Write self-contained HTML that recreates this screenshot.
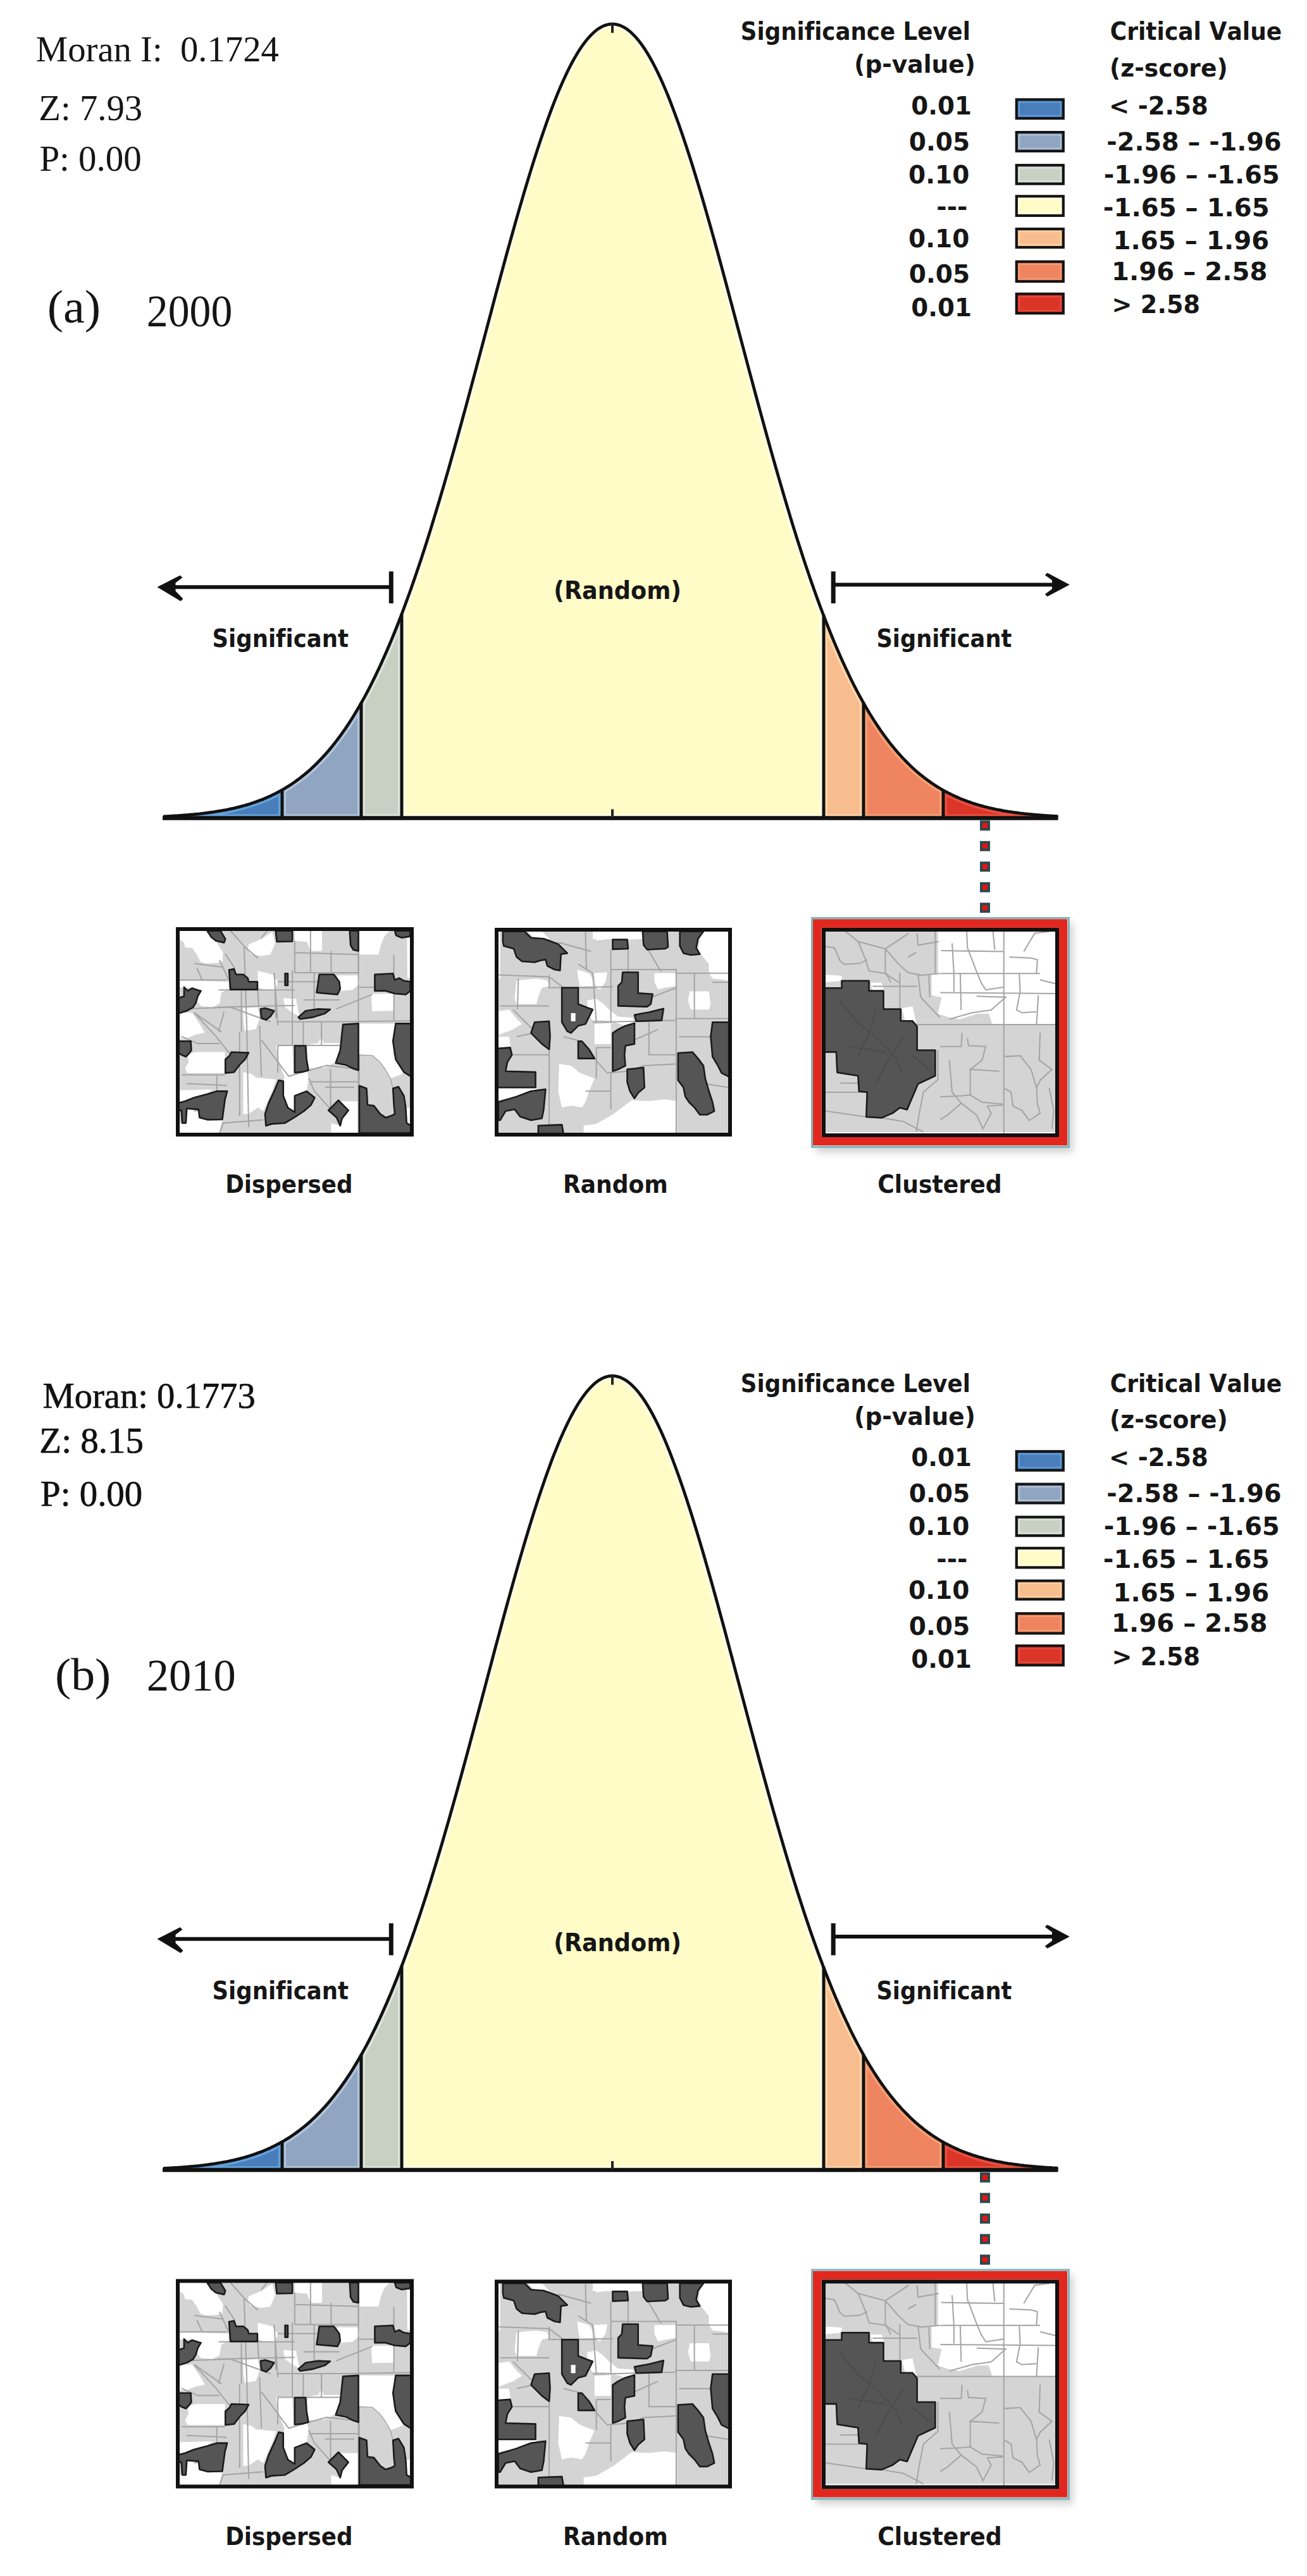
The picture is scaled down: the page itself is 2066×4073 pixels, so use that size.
<!DOCTYPE html>
<html><head><meta charset="utf-8"><title>Moran I</title><style>
html,body{margin:0;padding:0;background:#fff;}
svg{display:block;}
text{font-kerning:none;font-variant-ligatures:none;white-space:pre;}
.v{font-family:"DejaVu Sans","Liberation Sans",sans-serif;font-weight:bold;fill:#161616;}
.t{font-family:"Liberation Serif","DejaVu Serif",serif;fill:#151515;}
.tb{font-family:"Liberation Serif","DejaVu Serif",serif;fill:#111;stroke:#111;stroke-width:0.7px;}
</style></head><body>
<svg width="2066" height="4073" viewBox="0 0 2066 4073">
<defs><filter id="sh" x="-10%" y="-10%" width="120%" height="120%"><feGaussianBlur stdDeviation="6"/></filter></defs>
<rect width="2066" height="4073" fill="#fff"/>
<g>
<clipPath id="ca0"><path d="M258.0,1293.5 L258.0,1290.9 261.0,1290.8 264.0,1290.6 267.0,1290.5 269.9,1290.3 272.9,1290.1 275.9,1290.0 278.9,1289.8 281.9,1289.6 284.9,1289.4 287.8,1289.2 290.8,1288.9 293.8,1288.7 296.8,1288.5 299.8,1288.2 302.8,1288.0 305.7,1287.7 308.7,1287.4 311.7,1287.1 314.7,1286.8 317.7,1286.4 320.7,1286.1 323.7,1285.7 326.6,1285.4 329.6,1285.0 332.6,1284.6 335.6,1284.2 338.6,1283.7 341.6,1283.3 344.5,1282.8 347.5,1282.3 350.5,1281.8 353.5,1281.2 356.5,1280.7 359.5,1280.1 362.4,1279.5 365.4,1278.8 368.4,1278.2 371.4,1277.5 374.4,1276.8 377.4,1276.0 380.3,1275.3 383.3,1274.5 386.3,1273.6 389.3,1272.8 392.3,1271.9 395.3,1270.9 398.3,1270.0 401.2,1269.0 404.2,1268.0 407.2,1266.9 410.2,1265.8 413.2,1264.6 416.2,1263.4 419.1,1262.2 422.1,1260.9 425.1,1259.6 428.1,1258.2 431.1,1256.8 434.1,1255.3 437.0,1253.8 440.0,1252.3 443.0,1250.6 446.0,1249.0 L446.0,1293.5 Z"/></clipPath>
<path d="M258.0,1293.5 L258.0,1290.9 261.0,1290.8 264.0,1290.6 267.0,1290.5 269.9,1290.3 272.9,1290.1 275.9,1290.0 278.9,1289.8 281.9,1289.6 284.9,1289.4 287.8,1289.2 290.8,1288.9 293.8,1288.7 296.8,1288.5 299.8,1288.2 302.8,1288.0 305.7,1287.7 308.7,1287.4 311.7,1287.1 314.7,1286.8 317.7,1286.4 320.7,1286.1 323.7,1285.7 326.6,1285.4 329.6,1285.0 332.6,1284.6 335.6,1284.2 338.6,1283.7 341.6,1283.3 344.5,1282.8 347.5,1282.3 350.5,1281.8 353.5,1281.2 356.5,1280.7 359.5,1280.1 362.4,1279.5 365.4,1278.8 368.4,1278.2 371.4,1277.5 374.4,1276.8 377.4,1276.0 380.3,1275.3 383.3,1274.5 386.3,1273.6 389.3,1272.8 392.3,1271.9 395.3,1270.9 398.3,1270.0 401.2,1269.0 404.2,1268.0 407.2,1266.9 410.2,1265.8 413.2,1264.6 416.2,1263.4 419.1,1262.2 422.1,1260.9 425.1,1259.6 428.1,1258.2 431.1,1256.8 434.1,1255.3 437.0,1253.8 440.0,1252.3 443.0,1250.6 446.0,1249.0 L446.0,1293.5 Z" fill="#4a7ebb"/>
<path d="M258.0,1293.5 L258.0,1290.9 261.0,1290.8 264.0,1290.6 267.0,1290.5 269.9,1290.3 272.9,1290.1 275.9,1290.0 278.9,1289.8 281.9,1289.6 284.9,1289.4 287.8,1289.2 290.8,1288.9 293.8,1288.7 296.8,1288.5 299.8,1288.2 302.8,1288.0 305.7,1287.7 308.7,1287.4 311.7,1287.1 314.7,1286.8 317.7,1286.4 320.7,1286.1 323.7,1285.7 326.6,1285.4 329.6,1285.0 332.6,1284.6 335.6,1284.2 338.6,1283.7 341.6,1283.3 344.5,1282.8 347.5,1282.3 350.5,1281.8 353.5,1281.2 356.5,1280.7 359.5,1280.1 362.4,1279.5 365.4,1278.8 368.4,1278.2 371.4,1277.5 374.4,1276.8 377.4,1276.0 380.3,1275.3 383.3,1274.5 386.3,1273.6 389.3,1272.8 392.3,1271.9 395.3,1270.9 398.3,1270.0 401.2,1269.0 404.2,1268.0 407.2,1266.9 410.2,1265.8 413.2,1264.6 416.2,1263.4 419.1,1262.2 422.1,1260.9 425.1,1259.6 428.1,1258.2 431.1,1256.8 434.1,1255.3 437.0,1253.8 440.0,1252.3 443.0,1250.6 446.0,1249.0 L446.0,1293.5 Z" fill="none" stroke="#62a2dc" stroke-width="12" clip-path="url(#ca0)"/>
<clipPath id="ca1"><path d="M446.0,1293.5 L446.0,1249.0 449.0,1247.2 452.0,1245.5 454.9,1243.6 457.9,1241.7 460.9,1239.8 463.9,1237.7 466.8,1235.7 469.8,1233.5 472.8,1231.3 475.8,1229.0 478.7,1226.7 481.7,1224.3 484.7,1221.8 487.7,1219.2 490.6,1216.6 493.6,1213.8 496.6,1211.0 499.6,1208.2 502.5,1205.2 505.5,1202.2 508.5,1199.1 511.5,1195.8 514.5,1192.5 517.4,1189.2 520.4,1185.7 523.4,1182.1 526.4,1178.5 529.3,1174.7 532.3,1170.9 535.3,1166.9 538.3,1162.9 541.2,1158.7 544.2,1154.5 547.2,1150.1 550.2,1145.7 553.1,1141.1 556.1,1136.5 559.1,1131.7 562.1,1126.8 565.0,1121.8 568.0,1116.7 571.0,1111.5 L571.0,1293.5 Z"/></clipPath>
<path d="M446.0,1293.5 L446.0,1249.0 449.0,1247.2 452.0,1245.5 454.9,1243.6 457.9,1241.7 460.9,1239.8 463.9,1237.7 466.8,1235.7 469.8,1233.5 472.8,1231.3 475.8,1229.0 478.7,1226.7 481.7,1224.3 484.7,1221.8 487.7,1219.2 490.6,1216.6 493.6,1213.8 496.6,1211.0 499.6,1208.2 502.5,1205.2 505.5,1202.2 508.5,1199.1 511.5,1195.8 514.5,1192.5 517.4,1189.2 520.4,1185.7 523.4,1182.1 526.4,1178.5 529.3,1174.7 532.3,1170.9 535.3,1166.9 538.3,1162.9 541.2,1158.7 544.2,1154.5 547.2,1150.1 550.2,1145.7 553.1,1141.1 556.1,1136.5 559.1,1131.7 562.1,1126.8 565.0,1121.8 568.0,1116.7 571.0,1111.5 L571.0,1293.5 Z" fill="#8fa5c1"/>
<path d="M446.0,1293.5 L446.0,1249.0 449.0,1247.2 452.0,1245.5 454.9,1243.6 457.9,1241.7 460.9,1239.8 463.9,1237.7 466.8,1235.7 469.8,1233.5 472.8,1231.3 475.8,1229.0 478.7,1226.7 481.7,1224.3 484.7,1221.8 487.7,1219.2 490.6,1216.6 493.6,1213.8 496.6,1211.0 499.6,1208.2 502.5,1205.2 505.5,1202.2 508.5,1199.1 511.5,1195.8 514.5,1192.5 517.4,1189.2 520.4,1185.7 523.4,1182.1 526.4,1178.5 529.3,1174.7 532.3,1170.9 535.3,1166.9 538.3,1162.9 541.2,1158.7 544.2,1154.5 547.2,1150.1 550.2,1145.7 553.1,1141.1 556.1,1136.5 559.1,1131.7 562.1,1126.8 565.0,1121.8 568.0,1116.7 571.0,1111.5 L571.0,1293.5 Z" fill="none" stroke="#b2c4da" stroke-width="12" clip-path="url(#ca1)"/>
<clipPath id="ca2"><path d="M571.0,1293.5 L571.0,1111.5 573.9,1106.3 576.8,1101.0 579.7,1095.6 582.6,1090.0 585.5,1084.4 588.5,1078.6 591.4,1072.7 594.3,1066.8 597.2,1060.7 600.1,1054.5 603.0,1048.1 605.9,1041.7 608.8,1035.1 611.7,1028.4 614.6,1021.7 617.5,1014.8 620.5,1007.7 623.4,1000.6 626.3,993.3 629.2,986.0 632.1,978.5 635.0,970.9 L635.0,1293.5 Z"/></clipPath>
<path d="M571.0,1293.5 L571.0,1111.5 573.9,1106.3 576.8,1101.0 579.7,1095.6 582.6,1090.0 585.5,1084.4 588.5,1078.6 591.4,1072.7 594.3,1066.8 597.2,1060.7 600.1,1054.5 603.0,1048.1 605.9,1041.7 608.8,1035.1 611.7,1028.4 614.6,1021.7 617.5,1014.8 620.5,1007.7 623.4,1000.6 626.3,993.3 629.2,986.0 632.1,978.5 635.0,970.9 L635.0,1293.5 Z" fill="#c8d0c4"/>
<path d="M571.0,1293.5 L571.0,1111.5 573.9,1106.3 576.8,1101.0 579.7,1095.6 582.6,1090.0 585.5,1084.4 588.5,1078.6 591.4,1072.7 594.3,1066.8 597.2,1060.7 600.1,1054.5 603.0,1048.1 605.9,1041.7 608.8,1035.1 611.7,1028.4 614.6,1021.7 617.5,1014.8 620.5,1007.7 623.4,1000.6 626.3,993.3 629.2,986.0 632.1,978.5 635.0,970.9 L635.0,1293.5 Z" fill="none" stroke="#dde4da" stroke-width="12" clip-path="url(#ca2)"/>
<clipPath id="ca3"><path d="M635.0,1293.5 L635.0,970.9 638.0,962.9 641.0,954.9 644.0,946.7 647.0,938.4 650.0,930.0 652.9,921.5 655.9,912.8 658.9,904.0 661.9,895.2 664.9,886.2 667.9,877.1 670.9,867.8 673.9,858.5 676.9,849.1 679.9,839.6 682.9,829.9 685.8,820.2 688.8,810.3 691.8,800.4 694.8,790.4 697.8,780.3 700.8,770.0 703.8,759.8 706.8,749.4 709.8,738.9 712.8,728.4 715.8,717.8 718.7,707.1 721.7,696.3 724.7,685.5 727.7,674.7 730.7,663.7 733.7,652.8 736.7,641.7 739.7,630.7 742.7,619.5 745.7,608.4 748.7,597.2 751.7,586.0 754.6,574.8 757.6,563.5 760.6,552.3 763.6,541.0 766.6,529.7 769.6,518.4 772.6,507.2 775.6,495.9 778.6,484.7 781.6,473.5 784.6,462.3 787.5,451.1 790.5,440.0 793.5,428.9 796.5,417.9 799.5,406.9 802.5,396.0 805.5,385.1 808.5,374.3 811.5,363.6 814.5,353.0 817.5,342.5 820.4,332.0 823.4,321.7 826.4,311.4 829.4,301.3 832.4,291.2 835.4,281.3 838.4,271.6 841.4,261.9 844.4,252.4 847.4,243.1 850.4,233.9 853.3,224.8 856.3,215.9 859.3,207.2 862.3,198.6 865.3,190.2 868.3,182.0 871.3,173.9 874.3,166.1 877.3,158.5 880.3,151.0 883.3,143.8 886.2,136.7 889.2,129.9 892.2,123.3 895.2,116.9 898.2,110.7 901.2,104.8 904.2,99.1 907.2,93.6 910.2,88.4 913.2,83.4 916.2,78.7 919.1,74.2 922.1,69.9 925.1,66.0 928.1,62.2 931.1,58.8 934.1,55.6 937.1,52.6 940.1,49.9 943.1,47.5 946.1,45.4 949.1,43.5 952.0,41.9 955.0,40.6 958.0,39.5 961.0,38.7 964.0,38.2 967.0,38.0 970.0,38.1 973.0,38.4 976.0,39.0 979.0,39.8 982.0,41.0 985.0,42.4 987.9,44.1 990.9,46.1 993.9,48.3 996.9,50.8 999.9,53.6 1002.9,56.6 1005.9,59.9 1008.9,63.4 1011.9,67.3 1014.9,71.3 1017.9,75.7 1020.8,80.2 1023.8,85.1 1026.8,90.1 1029.8,95.4 1032.8,101.0 1035.8,106.8 1038.8,112.8 1041.8,119.0 1044.8,125.5 1047.8,132.2 1050.8,139.1 1053.7,146.2 1056.7,153.5 1059.7,161.0 1062.7,168.7 1065.7,176.6 1068.7,184.7 1071.7,193.0 1074.7,201.4 1077.7,210.1 1080.7,218.8 1083.7,227.8 1086.6,236.9 1089.6,246.2 1092.6,255.6 1095.6,265.1 1098.6,274.8 1101.6,284.6 1104.6,294.6 1107.6,304.6 1110.6,314.8 1113.6,325.1 1116.6,335.5 1119.5,346.0 1122.5,356.5 1125.5,367.2 1128.5,377.9 1131.5,388.7 1134.5,399.6 1137.5,410.6 1140.5,421.6 1143.5,432.6 1146.5,443.7 1149.5,454.8 1152.4,466.0 1155.4,477.2 1158.4,488.4 1161.4,499.7 1164.4,510.9 1167.4,522.2 1170.4,533.5 1173.4,544.8 1176.4,556.0 1179.4,567.3 1182.4,578.5 1185.3,589.8 1188.3,601.0 1191.3,612.1 1194.3,623.3 1197.3,634.4 1200.3,645.4 1203.3,656.4 1206.3,667.4 1209.3,678.3 1212.3,689.2 1215.3,699.9 1218.3,710.7 1221.2,721.3 1224.2,731.9 1227.2,742.4 1230.2,752.9 1233.2,763.2 1236.2,773.5 1239.2,783.7 1242.2,793.7 1245.2,803.7 1248.2,813.6 1251.2,823.4 1254.1,833.2 1257.1,842.8 1260.1,852.3 1263.1,861.7 1266.1,870.9 1269.1,880.1 1272.1,889.2 1275.1,898.1 1278.1,907.0 1281.1,915.7 1284.1,924.3 1287.0,932.8 1290.0,941.2 1293.0,949.5 1296.0,957.6 1299.0,965.6 1302.0,973.5 L1302.0,1293.5 Z"/></clipPath>
<path d="M635.0,1293.5 L635.0,970.9 638.0,962.9 641.0,954.9 644.0,946.7 647.0,938.4 650.0,930.0 652.9,921.5 655.9,912.8 658.9,904.0 661.9,895.2 664.9,886.2 667.9,877.1 670.9,867.8 673.9,858.5 676.9,849.1 679.9,839.6 682.9,829.9 685.8,820.2 688.8,810.3 691.8,800.4 694.8,790.4 697.8,780.3 700.8,770.0 703.8,759.8 706.8,749.4 709.8,738.9 712.8,728.4 715.8,717.8 718.7,707.1 721.7,696.3 724.7,685.5 727.7,674.7 730.7,663.7 733.7,652.8 736.7,641.7 739.7,630.7 742.7,619.5 745.7,608.4 748.7,597.2 751.7,586.0 754.6,574.8 757.6,563.5 760.6,552.3 763.6,541.0 766.6,529.7 769.6,518.4 772.6,507.2 775.6,495.9 778.6,484.7 781.6,473.5 784.6,462.3 787.5,451.1 790.5,440.0 793.5,428.9 796.5,417.9 799.5,406.9 802.5,396.0 805.5,385.1 808.5,374.3 811.5,363.6 814.5,353.0 817.5,342.5 820.4,332.0 823.4,321.7 826.4,311.4 829.4,301.3 832.4,291.2 835.4,281.3 838.4,271.6 841.4,261.9 844.4,252.4 847.4,243.1 850.4,233.9 853.3,224.8 856.3,215.9 859.3,207.2 862.3,198.6 865.3,190.2 868.3,182.0 871.3,173.9 874.3,166.1 877.3,158.5 880.3,151.0 883.3,143.8 886.2,136.7 889.2,129.9 892.2,123.3 895.2,116.9 898.2,110.7 901.2,104.8 904.2,99.1 907.2,93.6 910.2,88.4 913.2,83.4 916.2,78.7 919.1,74.2 922.1,69.9 925.1,66.0 928.1,62.2 931.1,58.8 934.1,55.6 937.1,52.6 940.1,49.9 943.1,47.5 946.1,45.4 949.1,43.5 952.0,41.9 955.0,40.6 958.0,39.5 961.0,38.7 964.0,38.2 967.0,38.0 970.0,38.1 973.0,38.4 976.0,39.0 979.0,39.8 982.0,41.0 985.0,42.4 987.9,44.1 990.9,46.1 993.9,48.3 996.9,50.8 999.9,53.6 1002.9,56.6 1005.9,59.9 1008.9,63.4 1011.9,67.3 1014.9,71.3 1017.9,75.7 1020.8,80.2 1023.8,85.1 1026.8,90.1 1029.8,95.4 1032.8,101.0 1035.8,106.8 1038.8,112.8 1041.8,119.0 1044.8,125.5 1047.8,132.2 1050.8,139.1 1053.7,146.2 1056.7,153.5 1059.7,161.0 1062.7,168.7 1065.7,176.6 1068.7,184.7 1071.7,193.0 1074.7,201.4 1077.7,210.1 1080.7,218.8 1083.7,227.8 1086.6,236.9 1089.6,246.2 1092.6,255.6 1095.6,265.1 1098.6,274.8 1101.6,284.6 1104.6,294.6 1107.6,304.6 1110.6,314.8 1113.6,325.1 1116.6,335.5 1119.5,346.0 1122.5,356.5 1125.5,367.2 1128.5,377.9 1131.5,388.7 1134.5,399.6 1137.5,410.6 1140.5,421.6 1143.5,432.6 1146.5,443.7 1149.5,454.8 1152.4,466.0 1155.4,477.2 1158.4,488.4 1161.4,499.7 1164.4,510.9 1167.4,522.2 1170.4,533.5 1173.4,544.8 1176.4,556.0 1179.4,567.3 1182.4,578.5 1185.3,589.8 1188.3,601.0 1191.3,612.1 1194.3,623.3 1197.3,634.4 1200.3,645.4 1203.3,656.4 1206.3,667.4 1209.3,678.3 1212.3,689.2 1215.3,699.9 1218.3,710.7 1221.2,721.3 1224.2,731.9 1227.2,742.4 1230.2,752.9 1233.2,763.2 1236.2,773.5 1239.2,783.7 1242.2,793.7 1245.2,803.7 1248.2,813.6 1251.2,823.4 1254.1,833.2 1257.1,842.8 1260.1,852.3 1263.1,861.7 1266.1,870.9 1269.1,880.1 1272.1,889.2 1275.1,898.1 1278.1,907.0 1281.1,915.7 1284.1,924.3 1287.0,932.8 1290.0,941.2 1293.0,949.5 1296.0,957.6 1299.0,965.6 1302.0,973.5 L1302.0,1293.5 Z" fill="#fffcc8"/>
<path d="M635.0,1293.5 L635.0,970.9 638.0,962.9 641.0,954.9 644.0,946.7 647.0,938.4 650.0,930.0 652.9,921.5 655.9,912.8 658.9,904.0 661.9,895.2 664.9,886.2 667.9,877.1 670.9,867.8 673.9,858.5 676.9,849.1 679.9,839.6 682.9,829.9 685.8,820.2 688.8,810.3 691.8,800.4 694.8,790.4 697.8,780.3 700.8,770.0 703.8,759.8 706.8,749.4 709.8,738.9 712.8,728.4 715.8,717.8 718.7,707.1 721.7,696.3 724.7,685.5 727.7,674.7 730.7,663.7 733.7,652.8 736.7,641.7 739.7,630.7 742.7,619.5 745.7,608.4 748.7,597.2 751.7,586.0 754.6,574.8 757.6,563.5 760.6,552.3 763.6,541.0 766.6,529.7 769.6,518.4 772.6,507.2 775.6,495.9 778.6,484.7 781.6,473.5 784.6,462.3 787.5,451.1 790.5,440.0 793.5,428.9 796.5,417.9 799.5,406.9 802.5,396.0 805.5,385.1 808.5,374.3 811.5,363.6 814.5,353.0 817.5,342.5 820.4,332.0 823.4,321.7 826.4,311.4 829.4,301.3 832.4,291.2 835.4,281.3 838.4,271.6 841.4,261.9 844.4,252.4 847.4,243.1 850.4,233.9 853.3,224.8 856.3,215.9 859.3,207.2 862.3,198.6 865.3,190.2 868.3,182.0 871.3,173.9 874.3,166.1 877.3,158.5 880.3,151.0 883.3,143.8 886.2,136.7 889.2,129.9 892.2,123.3 895.2,116.9 898.2,110.7 901.2,104.8 904.2,99.1 907.2,93.6 910.2,88.4 913.2,83.4 916.2,78.7 919.1,74.2 922.1,69.9 925.1,66.0 928.1,62.2 931.1,58.8 934.1,55.6 937.1,52.6 940.1,49.9 943.1,47.5 946.1,45.4 949.1,43.5 952.0,41.9 955.0,40.6 958.0,39.5 961.0,38.7 964.0,38.2 967.0,38.0 970.0,38.1 973.0,38.4 976.0,39.0 979.0,39.8 982.0,41.0 985.0,42.4 987.9,44.1 990.9,46.1 993.9,48.3 996.9,50.8 999.9,53.6 1002.9,56.6 1005.9,59.9 1008.9,63.4 1011.9,67.3 1014.9,71.3 1017.9,75.7 1020.8,80.2 1023.8,85.1 1026.8,90.1 1029.8,95.4 1032.8,101.0 1035.8,106.8 1038.8,112.8 1041.8,119.0 1044.8,125.5 1047.8,132.2 1050.8,139.1 1053.7,146.2 1056.7,153.5 1059.7,161.0 1062.7,168.7 1065.7,176.6 1068.7,184.7 1071.7,193.0 1074.7,201.4 1077.7,210.1 1080.7,218.8 1083.7,227.8 1086.6,236.9 1089.6,246.2 1092.6,255.6 1095.6,265.1 1098.6,274.8 1101.6,284.6 1104.6,294.6 1107.6,304.6 1110.6,314.8 1113.6,325.1 1116.6,335.5 1119.5,346.0 1122.5,356.5 1125.5,367.2 1128.5,377.9 1131.5,388.7 1134.5,399.6 1137.5,410.6 1140.5,421.6 1143.5,432.6 1146.5,443.7 1149.5,454.8 1152.4,466.0 1155.4,477.2 1158.4,488.4 1161.4,499.7 1164.4,510.9 1167.4,522.2 1170.4,533.5 1173.4,544.8 1176.4,556.0 1179.4,567.3 1182.4,578.5 1185.3,589.8 1188.3,601.0 1191.3,612.1 1194.3,623.3 1197.3,634.4 1200.3,645.4 1203.3,656.4 1206.3,667.4 1209.3,678.3 1212.3,689.2 1215.3,699.9 1218.3,710.7 1221.2,721.3 1224.2,731.9 1227.2,742.4 1230.2,752.9 1233.2,763.2 1236.2,773.5 1239.2,783.7 1242.2,793.7 1245.2,803.7 1248.2,813.6 1251.2,823.4 1254.1,833.2 1257.1,842.8 1260.1,852.3 1263.1,861.7 1266.1,870.9 1269.1,880.1 1272.1,889.2 1275.1,898.1 1278.1,907.0 1281.1,915.7 1284.1,924.3 1287.0,932.8 1290.0,941.2 1293.0,949.5 1296.0,957.6 1299.0,965.6 1302.0,973.5 L1302.0,1293.5 Z" fill="none" stroke="#fffee6" stroke-width="12" clip-path="url(#ca3)"/>
<clipPath id="ca4"><path d="M1302.0,1293.5 L1302.0,973.5 1304.9,980.9 1307.7,988.3 1310.6,995.5 1313.5,1002.6 1316.3,1009.6 1319.2,1016.5 1322.0,1023.3 1324.9,1029.9 1327.8,1036.5 1330.6,1042.9 1333.5,1049.2 1336.4,1055.4 1339.2,1061.5 1342.1,1067.5 1345.0,1073.4 1347.8,1079.2 1350.7,1084.8 1353.5,1090.4 1356.4,1095.8 1359.3,1101.1 1362.1,1106.4 1365.0,1111.5 L1365.0,1293.5 Z"/></clipPath>
<path d="M1302.0,1293.5 L1302.0,973.5 1304.9,980.9 1307.7,988.3 1310.6,995.5 1313.5,1002.6 1316.3,1009.6 1319.2,1016.5 1322.0,1023.3 1324.9,1029.9 1327.8,1036.5 1330.6,1042.9 1333.5,1049.2 1336.4,1055.4 1339.2,1061.5 1342.1,1067.5 1345.0,1073.4 1347.8,1079.2 1350.7,1084.8 1353.5,1090.4 1356.4,1095.8 1359.3,1101.1 1362.1,1106.4 1365.0,1111.5 L1365.0,1293.5 Z" fill="#f8bd8e"/>
<path d="M1302.0,1293.5 L1302.0,973.5 1304.9,980.9 1307.7,988.3 1310.6,995.5 1313.5,1002.6 1316.3,1009.6 1319.2,1016.5 1322.0,1023.3 1324.9,1029.9 1327.8,1036.5 1330.6,1042.9 1333.5,1049.2 1336.4,1055.4 1339.2,1061.5 1342.1,1067.5 1345.0,1073.4 1347.8,1079.2 1350.7,1084.8 1353.5,1090.4 1356.4,1095.8 1359.3,1101.1 1362.1,1106.4 1365.0,1111.5 L1365.0,1293.5 Z" fill="none" stroke="#fcd4a8" stroke-width="12" clip-path="url(#ca4)"/>
<clipPath id="ca5"><path d="M1365.0,1293.5 L1365.0,1111.5 1367.9,1116.6 1370.9,1121.7 1373.8,1126.6 1376.7,1131.4 1379.7,1136.1 1382.6,1140.7 1385.5,1145.2 1388.4,1149.6 1391.4,1153.9 1394.3,1158.1 1397.2,1162.2 1400.2,1166.2 1403.1,1170.1 1406.0,1173.9 1409.0,1177.6 1411.9,1181.2 1414.8,1184.8 1417.7,1188.2 1420.7,1191.6 1423.6,1194.8 1426.5,1198.0 1429.5,1201.1 1432.4,1204.1 1435.3,1207.1 1438.3,1209.9 1441.2,1212.7 1444.1,1215.4 1447.0,1218.1 1450.0,1220.6 1452.9,1223.1 1455.8,1225.5 1458.8,1227.9 1461.7,1230.2 1464.6,1232.4 1467.6,1234.5 1470.5,1236.6 1473.4,1238.6 1476.3,1240.6 1479.3,1242.5 1482.2,1244.3 1485.1,1246.1 1488.1,1247.9 1491.0,1249.5 L1491.0,1293.5 Z"/></clipPath>
<path d="M1365.0,1293.5 L1365.0,1111.5 1367.9,1116.6 1370.9,1121.7 1373.8,1126.6 1376.7,1131.4 1379.7,1136.1 1382.6,1140.7 1385.5,1145.2 1388.4,1149.6 1391.4,1153.9 1394.3,1158.1 1397.2,1162.2 1400.2,1166.2 1403.1,1170.1 1406.0,1173.9 1409.0,1177.6 1411.9,1181.2 1414.8,1184.8 1417.7,1188.2 1420.7,1191.6 1423.6,1194.8 1426.5,1198.0 1429.5,1201.1 1432.4,1204.1 1435.3,1207.1 1438.3,1209.9 1441.2,1212.7 1444.1,1215.4 1447.0,1218.1 1450.0,1220.6 1452.9,1223.1 1455.8,1225.5 1458.8,1227.9 1461.7,1230.2 1464.6,1232.4 1467.6,1234.5 1470.5,1236.6 1473.4,1238.6 1476.3,1240.6 1479.3,1242.5 1482.2,1244.3 1485.1,1246.1 1488.1,1247.9 1491.0,1249.5 L1491.0,1293.5 Z" fill="#ee8460"/>
<path d="M1365.0,1293.5 L1365.0,1111.5 1367.9,1116.6 1370.9,1121.7 1373.8,1126.6 1376.7,1131.4 1379.7,1136.1 1382.6,1140.7 1385.5,1145.2 1388.4,1149.6 1391.4,1153.9 1394.3,1158.1 1397.2,1162.2 1400.2,1166.2 1403.1,1170.1 1406.0,1173.9 1409.0,1177.6 1411.9,1181.2 1414.8,1184.8 1417.7,1188.2 1420.7,1191.6 1423.6,1194.8 1426.5,1198.0 1429.5,1201.1 1432.4,1204.1 1435.3,1207.1 1438.3,1209.9 1441.2,1212.7 1444.1,1215.4 1447.0,1218.1 1450.0,1220.6 1452.9,1223.1 1455.8,1225.5 1458.8,1227.9 1461.7,1230.2 1464.6,1232.4 1467.6,1234.5 1470.5,1236.6 1473.4,1238.6 1476.3,1240.6 1479.3,1242.5 1482.2,1244.3 1485.1,1246.1 1488.1,1247.9 1491.0,1249.5 L1491.0,1293.5 Z" fill="none" stroke="#f7a074" stroke-width="12" clip-path="url(#ca5)"/>
<clipPath id="ca6"><path d="M1491.0,1293.5 L1491.0,1249.5 1494.0,1251.2 1497.0,1252.8 1499.9,1254.3 1502.9,1255.8 1505.9,1257.3 1508.9,1258.7 1511.8,1260.0 1514.8,1261.3 1517.8,1262.6 1520.8,1263.8 1523.7,1265.0 1526.7,1266.1 1529.7,1267.2 1532.7,1268.3 1535.6,1269.3 1538.6,1270.3 1541.6,1271.2 1544.6,1272.1 1547.5,1273.0 1550.5,1273.9 1553.5,1274.7 1556.5,1275.5 1559.4,1276.2 1562.4,1277.0 1565.4,1277.7 1568.4,1278.3 1571.3,1279.0 1574.3,1279.6 1577.3,1280.2 1580.3,1280.8 1583.2,1281.4 1586.2,1281.9 1589.2,1282.4 1592.2,1282.9 1595.1,1283.4 1598.1,1283.8 1601.1,1284.3 1604.1,1284.7 1607.0,1285.1 1610.0,1285.5 1613.0,1285.8 1616.0,1286.2 1618.9,1286.5 1621.9,1286.8 1624.9,1287.2 1627.9,1287.5 1630.8,1287.7 1633.8,1288.0 1636.8,1288.3 1639.8,1288.5 1642.7,1288.8 1645.7,1289.0 1648.7,1289.2 1651.7,1289.4 1654.6,1289.6 1657.6,1289.8 1660.6,1290.0 1663.6,1290.2 1666.5,1290.3 1669.5,1290.5 1672.5,1290.6 L1672.5,1293.5 Z"/></clipPath>
<path d="M1491.0,1293.5 L1491.0,1249.5 1494.0,1251.2 1497.0,1252.8 1499.9,1254.3 1502.9,1255.8 1505.9,1257.3 1508.9,1258.7 1511.8,1260.0 1514.8,1261.3 1517.8,1262.6 1520.8,1263.8 1523.7,1265.0 1526.7,1266.1 1529.7,1267.2 1532.7,1268.3 1535.6,1269.3 1538.6,1270.3 1541.6,1271.2 1544.6,1272.1 1547.5,1273.0 1550.5,1273.9 1553.5,1274.7 1556.5,1275.5 1559.4,1276.2 1562.4,1277.0 1565.4,1277.7 1568.4,1278.3 1571.3,1279.0 1574.3,1279.6 1577.3,1280.2 1580.3,1280.8 1583.2,1281.4 1586.2,1281.9 1589.2,1282.4 1592.2,1282.9 1595.1,1283.4 1598.1,1283.8 1601.1,1284.3 1604.1,1284.7 1607.0,1285.1 1610.0,1285.5 1613.0,1285.8 1616.0,1286.2 1618.9,1286.5 1621.9,1286.8 1624.9,1287.2 1627.9,1287.5 1630.8,1287.7 1633.8,1288.0 1636.8,1288.3 1639.8,1288.5 1642.7,1288.8 1645.7,1289.0 1648.7,1289.2 1651.7,1289.4 1654.6,1289.6 1657.6,1289.8 1660.6,1290.0 1663.6,1290.2 1666.5,1290.3 1669.5,1290.5 1672.5,1290.6 L1672.5,1293.5 Z" fill="#db3528"/>
<path d="M1491.0,1293.5 L1491.0,1249.5 1494.0,1251.2 1497.0,1252.8 1499.9,1254.3 1502.9,1255.8 1505.9,1257.3 1508.9,1258.7 1511.8,1260.0 1514.8,1261.3 1517.8,1262.6 1520.8,1263.8 1523.7,1265.0 1526.7,1266.1 1529.7,1267.2 1532.7,1268.3 1535.6,1269.3 1538.6,1270.3 1541.6,1271.2 1544.6,1272.1 1547.5,1273.0 1550.5,1273.9 1553.5,1274.7 1556.5,1275.5 1559.4,1276.2 1562.4,1277.0 1565.4,1277.7 1568.4,1278.3 1571.3,1279.0 1574.3,1279.6 1577.3,1280.2 1580.3,1280.8 1583.2,1281.4 1586.2,1281.9 1589.2,1282.4 1592.2,1282.9 1595.1,1283.4 1598.1,1283.8 1601.1,1284.3 1604.1,1284.7 1607.0,1285.1 1610.0,1285.5 1613.0,1285.8 1616.0,1286.2 1618.9,1286.5 1621.9,1286.8 1624.9,1287.2 1627.9,1287.5 1630.8,1287.7 1633.8,1288.0 1636.8,1288.3 1639.8,1288.5 1642.7,1288.8 1645.7,1289.0 1648.7,1289.2 1651.7,1289.4 1654.6,1289.6 1657.6,1289.8 1660.6,1290.0 1663.6,1290.2 1666.5,1290.3 1669.5,1290.5 1672.5,1290.6 L1672.5,1293.5 Z" fill="none" stroke="#ea5040" stroke-width="12" clip-path="url(#ca6)"/>
<line x1="446.0" y1="1293.5" x2="446.0" y2="1248.0" stroke="#111" stroke-width="5"/>
<line x1="571.0" y1="1293.5" x2="571.0" y2="1110.5" stroke="#111" stroke-width="5"/>
<line x1="635.0" y1="1293.5" x2="635.0" y2="969.9" stroke="#111" stroke-width="5"/>
<line x1="1302.0" y1="1293.5" x2="1302.0" y2="972.5" stroke="#111" stroke-width="5"/>
<line x1="1365.0" y1="1293.5" x2="1365.0" y2="1110.5" stroke="#111" stroke-width="5"/>
<line x1="1491.0" y1="1293.5" x2="1491.0" y2="1248.5" stroke="#111" stroke-width="5"/>
<polyline points="258.0,1290.9 261.0,1290.8 264.0,1290.6 267.0,1290.5 270.0,1290.3 273.0,1290.1 276.0,1289.9 279.0,1289.8 282.0,1289.6 285.0,1289.4 288.0,1289.2 291.0,1288.9 294.0,1288.7 297.0,1288.5 300.0,1288.2 303.0,1287.9 305.9,1287.7 308.9,1287.4 311.9,1287.1 314.9,1286.8 317.9,1286.4 320.9,1286.1 323.9,1285.7 326.9,1285.3 329.9,1284.9 332.9,1284.5 335.9,1284.1 338.9,1283.7 341.9,1283.2 344.9,1282.7 347.9,1282.2 350.9,1281.7 353.9,1281.1 356.9,1280.6 359.9,1280.0 362.9,1279.4 365.9,1278.7 368.9,1278.1 371.9,1277.4 374.9,1276.6 377.9,1275.9 380.9,1275.1 383.9,1274.3 386.9,1273.5 389.9,1272.6 392.9,1271.7 395.9,1270.8 398.9,1269.8 401.8,1268.8 404.8,1267.7 407.8,1266.6 410.8,1265.5 413.8,1264.4 416.8,1263.2 419.8,1261.9 422.8,1260.6 425.8,1259.3 428.8,1257.9 431.8,1256.4 434.8,1255.0 437.8,1253.4 440.8,1251.8 443.8,1250.2 446.8,1248.5 449.8,1246.8 452.8,1244.9 455.8,1243.1 458.8,1241.2 461.8,1239.2 464.8,1237.1 467.8,1235.0 470.8,1232.8 473.8,1230.6 476.8,1228.2 479.8,1225.9 482.8,1223.4 485.8,1220.9 488.8,1218.2 491.8,1215.6 494.7,1212.8 497.7,1209.9 500.7,1207.0 503.7,1204.0 506.7,1200.9 509.7,1197.7 512.7,1194.5 515.7,1191.1 518.7,1187.7 521.7,1184.1 524.7,1180.5 527.7,1176.8 530.7,1172.9 533.7,1169.0 536.7,1165.0 539.7,1160.9 542.7,1156.7 545.7,1152.3 548.7,1147.9 551.7,1143.4 554.7,1138.7 557.7,1134.0 560.7,1129.1 563.7,1124.1 566.7,1119.0 569.7,1113.8 572.7,1108.5 575.7,1103.1 578.7,1097.6 581.7,1091.9 584.7,1086.1 587.7,1080.2 590.6,1074.2 593.6,1068.1 596.6,1061.8 599.6,1055.4 602.6,1048.9 605.6,1042.3 608.6,1035.6 611.6,1028.7 614.6,1021.7 617.6,1014.6 620.6,1007.3 623.6,1000.0 626.6,992.5 629.6,984.9 632.6,977.1 635.6,969.3 638.6,961.3 641.6,953.2 644.6,945.0 647.6,936.7 650.6,928.2 653.6,919.6 656.6,910.9 659.6,902.1 662.6,893.2 665.6,884.2 668.6,875.0 671.6,865.8 674.6,856.4 677.6,846.9 680.6,837.4 683.5,827.7 686.5,817.9 689.5,808.0 692.5,798.0 695.5,788.0 698.5,777.8 701.5,767.6 704.5,757.2 707.5,746.8 710.5,736.3 713.5,725.7 716.5,715.1 719.5,704.4 722.5,693.6 725.5,682.7 728.5,671.8 731.5,660.9 734.5,649.8 737.5,638.8 740.5,627.7 743.5,616.5 746.5,605.4 749.5,594.1 752.5,582.9 755.5,571.7 758.5,560.4 761.5,549.1 764.5,537.8 767.5,526.5 770.5,515.2 773.5,503.9 776.5,492.6 779.4,481.4 782.4,470.2 785.4,458.9 788.4,447.8 791.4,436.6 794.4,425.6 797.4,414.5 800.4,403.5 803.4,392.6 806.4,381.8 809.4,371.0 812.4,360.3 815.4,349.6 818.4,339.1 821.4,328.7 824.4,318.3 827.4,308.1 830.4,298.0 833.4,288.0 836.4,278.1 839.4,268.4 842.4,258.7 845.4,249.3 848.4,239.9 851.4,230.8 854.4,221.7 857.4,212.9 860.4,204.2 863.4,195.6 866.4,187.3 869.4,179.1 872.3,171.2 875.3,163.4 878.3,155.8 881.3,148.4 884.3,141.2 887.3,134.2 890.3,127.5 893.3,120.9 896.3,114.6 899.3,108.5 902.3,102.6 905.3,97.0 908.3,91.6 911.3,86.5 914.3,81.6 917.3,76.9 920.3,72.5 923.3,68.4 926.3,64.5 929.3,60.8 932.3,57.5 935.3,54.4 938.3,51.5 941.3,48.9 944.3,46.6 947.3,44.6 950.3,42.8 953.3,41.3 956.3,40.1 959.3,39.2 962.3,38.5 965.2,38.1 968.2,38.0 971.2,38.2 974.2,38.6 977.2,39.3 980.2,40.3 983.2,41.6 986.2,43.1 989.2,44.9 992.2,47.0 995.2,49.3 998.2,52.0 1001.2,54.9 1004.2,58.0 1007.2,61.4 1010.2,65.1 1013.2,69.0 1016.2,73.2 1019.2,77.7 1022.2,82.4 1025.2,87.3 1028.2,92.5 1031.2,97.9 1034.2,103.6 1037.2,109.5 1040.2,115.6 1043.2,122.0 1046.2,128.6 1049.2,135.4 1052.2,142.4 1055.2,149.6 1058.2,157.0 1061.1,164.6 1064.1,172.5 1067.1,180.5 1070.1,188.7 1073.1,197.0 1076.1,205.6 1079.1,214.3 1082.1,223.2 1085.1,232.3 1088.1,241.5 1091.1,250.8 1094.1,260.3 1097.1,270.0 1100.1,279.7 1103.1,289.6 1106.1,299.6 1109.1,309.8 1112.1,320.0 1115.1,330.4 1118.1,340.8 1121.1,351.4 1124.1,362.0 1127.1,372.7 1130.1,383.5 1133.1,394.4 1136.1,405.3 1139.1,416.3 1142.1,427.4 1145.1,438.5 1148.1,449.6 1151.1,460.8 1154.0,472.0 1157.0,483.2 1160.0,494.5 1163.0,505.8 1166.0,517.1 1169.0,528.4 1172.0,539.7 1175.0,550.9 1178.0,562.2 1181.0,573.5 1184.0,584.8 1187.0,596.0 1190.0,607.2 1193.0,618.4 1196.0,629.5 1199.0,640.6 1202.0,651.7 1205.0,662.7 1208.0,673.6 1211.0,684.5 1214.0,695.4 1217.0,706.1 1220.0,716.8 1223.0,727.5 1226.0,738.0 1229.0,748.5 1232.0,758.9 1235.0,769.2 1238.0,779.5 1241.0,789.6 1244.0,799.7 1247.0,809.6 1249.9,819.5 1252.9,829.3 1255.9,838.9 1258.9,848.5 1261.9,858.0 1264.9,867.3 1267.9,876.5 1270.9,885.7 1273.9,894.7 1276.9,903.6 1279.9,912.4 1282.9,921.1 1285.9,929.6 1288.9,938.0 1291.9,946.4 1294.9,954.6 1297.9,962.6 1300.9,970.6 1303.9,978.4 1306.9,986.1 1309.9,993.7 1312.9,1001.2 1315.9,1008.5 1318.9,1015.8 1321.9,1022.9 1324.9,1029.8 1327.9,1036.7 1330.9,1043.4 1333.9,1050.0 1336.9,1056.5 1339.9,1062.8 1342.8,1069.1 1345.8,1075.2 1348.8,1081.2 1351.8,1087.1 1354.8,1092.8 1357.8,1098.5 1360.8,1104.0 1363.8,1109.4 1366.8,1114.7 1369.8,1119.9 1372.8,1125.0 1375.8,1129.9 1378.8,1134.8 1381.8,1139.5 1384.8,1144.1 1387.8,1148.6 1390.8,1153.1 1393.8,1157.4 1396.8,1161.6 1399.8,1165.7 1402.8,1169.7 1405.8,1173.6 1408.8,1177.4 1411.8,1181.1 1414.8,1184.7 1417.8,1188.2 1420.8,1191.7 1423.8,1195.0 1426.8,1198.3 1429.8,1201.4 1432.8,1204.5 1435.8,1207.5 1438.7,1210.4 1441.7,1213.3 1444.7,1216.0 1447.7,1218.7 1450.7,1221.3 1453.7,1223.8 1456.7,1226.2 1459.7,1228.6 1462.7,1230.9 1465.7,1233.2 1468.7,1235.3 1471.7,1237.5 1474.7,1239.5 1477.7,1241.5 1480.7,1243.4 1483.7,1245.2 1486.7,1247.0 1489.7,1248.8 1492.7,1250.5 1495.7,1252.1 1498.7,1253.7 1501.7,1255.2 1504.7,1256.7 1507.7,1258.1 1510.7,1259.5 1513.7,1260.8 1516.7,1262.1 1519.7,1263.4 1522.7,1264.6 1525.7,1265.7 1528.7,1266.8 1531.6,1267.9 1534.6,1268.9 1537.6,1270.0 1540.6,1270.9 1543.6,1271.9 1546.6,1272.8 1549.6,1273.6 1552.6,1274.4 1555.6,1275.3 1558.6,1276.0 1561.6,1276.8 1564.6,1277.5 1567.6,1278.2 1570.6,1278.8 1573.6,1279.5 1576.6,1280.1 1579.6,1280.7 1582.6,1281.2 1585.6,1281.8 1588.6,1282.3 1591.6,1282.8 1594.6,1283.3 1597.6,1283.7 1600.6,1284.2 1603.6,1284.6 1606.6,1285.0 1609.6,1285.4 1612.6,1285.8 1615.6,1286.1 1618.6,1286.5 1621.6,1286.8 1624.6,1287.1 1627.5,1287.4 1630.5,1287.7 1633.5,1288.0 1636.5,1288.2 1639.5,1288.5 1642.5,1288.7 1645.5,1289.0 1648.5,1289.2 1651.5,1289.4 1654.5,1289.6 1657.5,1289.8 1660.5,1290.0 1663.5,1290.2 1666.5,1290.3 1669.5,1290.5 1672.5,1290.6" fill="none" stroke="#111" stroke-width="4.8" stroke-linejoin="round"/>
<line x1="257.0" y1="1293.5" x2="1672.5" y2="1293.5" stroke="#111" stroke-width="6.5"/>
<line x1="968.0" y1="1293.5" x2="968.0" y2="1279.5" stroke="#222" stroke-width="4"/>
<line x1="968.0" y1="36.0" x2="968.0" y2="52.0" stroke="#222" stroke-width="4"/>
<line x1="276" y1="928.2" x2="618" y2="928.2" stroke="#111" stroke-width="6"/>
<path d="M248.5,928.2 L284.5,909.8 L288.5,913.2 L277.5,921.6 L277.5,934.6 L289.5,946.8 L285.5,950.6 Z" fill="#111"/>
<line x1="618.3" y1="903.5" x2="618.3" y2="954" stroke="#111" stroke-width="7"/>
<line x1="1317" y1="924.5" x2="1664" y2="924.5" stroke="#111" stroke-width="6"/>
<path d="M1690.8,924.4 L1655.5,905.8 L1651.8,909.3 L1663,917.6 L1663,931.2 L1651.8,939.6 L1655.5,943.2 Z" fill="#111"/>
<line x1="1317.2" y1="903.5" x2="1317.2" y2="954" stroke="#111" stroke-width="7"/>
<text class="v" x="875.2" y="947.0" font-size="38.5" textLength="201.8" lengthAdjust="spacingAndGlyphs">(Random)</text>
<text class="v" x="335.5" y="1023.0" font-size="38.5" textLength="215.4" lengthAdjust="spacingAndGlyphs">Significant</text>
<text class="v" x="1385.5" y="1023.0" font-size="38.5" textLength="213.8" lengthAdjust="spacingAndGlyphs">Significant</text>
<text class="v" x="356.2" y="1886.0" font-size="38.5" textLength="201.4" lengthAdjust="spacingAndGlyphs">Dispersed</text>
<text class="v" x="890.0" y="1886.0" font-size="38.5" textLength="165.7" lengthAdjust="spacingAndGlyphs">Random</text>
<text class="v" x="1387.2" y="1886.0" font-size="38.5" textLength="196.5" lengthAdjust="spacingAndGlyphs">Clustered</text>
<text class="v" x="1170.8" y="63.4" font-size="38.5" textLength="363.1" lengthAdjust="spacingAndGlyphs">Significance Level</text>
<text class="v" x="1350.3" y="115.1" font-size="38.5" textLength="191.5" lengthAdjust="spacingAndGlyphs">(p-value)</text>
<text class="v" x="1754.7" y="63.1" font-size="38.5" textLength="271.6" lengthAdjust="spacingAndGlyphs">Critical Value</text>
<text class="v" x="1754.0" y="120.5" font-size="38.5" textLength="186.7" lengthAdjust="spacingAndGlyphs">(z-score)</text>
<rect x="1606.8" y="157.4" width="74" height="29.8" fill="#4a7ebb" stroke="#141414" stroke-width="4.2"/>
<rect x="1611" y="161.6" width="65.6" height="21.4" fill="none" stroke="#62a2dc" stroke-width="2.4" opacity="0.8"/>
<text class="v" x="1440.3" y="180.5" font-size="38.5" textLength="95.7" lengthAdjust="spacingAndGlyphs">0.01</text>
<text class="v" x="1753.1" y="180.8" font-size="38.5" textLength="156.8" lengthAdjust="spacingAndGlyphs">&lt; -2.58</text>
<rect x="1606.8" y="209.1" width="74" height="29.8" fill="#8fa5c1" stroke="#141414" stroke-width="4.2"/>
<rect x="1611" y="213.3" width="65.6" height="21.4" fill="none" stroke="#b2c4da" stroke-width="2.4" opacity="0.8"/>
<text class="v" x="1436.7" y="237.5" font-size="38.5" textLength="96.6" lengthAdjust="spacingAndGlyphs">0.05</text>
<text class="v" x="1749.3" y="237.7" font-size="38.5" textLength="276.3" lengthAdjust="spacingAndGlyphs">-2.58 – -1.96</text>
<rect x="1606.8" y="261.2" width="74" height="29.4" fill="#c8d0c4" stroke="#141414" stroke-width="4.2"/>
<rect x="1611" y="265.4" width="65.6" height="21.0" fill="none" stroke="#dde4da" stroke-width="2.4" opacity="0.8"/>
<text class="v" x="1436.0" y="289.5" font-size="38.5" textLength="96.4" lengthAdjust="spacingAndGlyphs">0.10</text>
<text class="v" x="1744.7" y="289.8" font-size="38.5" textLength="278.1" lengthAdjust="spacingAndGlyphs">-1.96 – -1.65</text>
<rect x="1606.8" y="310.3" width="74" height="30.6" fill="#fffcc8" stroke="#141414" stroke-width="4.2"/>
<rect x="1611" y="314.5" width="65.6" height="22.2" fill="none" stroke="#fffee6" stroke-width="2.4" opacity="0.8"/>
<text class="v" x="1480.3" y="341" font-size="38.5" textLength="49" lengthAdjust="spacingAndGlyphs">---</text>
<text class="v" x="1743.8" y="341.5" font-size="38.5" textLength="263.0" lengthAdjust="spacingAndGlyphs">-1.65 – 1.65</text>
<rect x="1606.8" y="362.0" width="74" height="29.1" fill="#f8bd8e" stroke="#141414" stroke-width="4.2"/>
<rect x="1611" y="366.2" width="65.6" height="20.7" fill="none" stroke="#fcd4a8" stroke-width="2.4" opacity="0.8"/>
<text class="v" x="1436.0" y="390.5" font-size="38.5" textLength="96.4" lengthAdjust="spacingAndGlyphs">0.10</text>
<text class="v" x="1759.5" y="394.0" font-size="38.5" textLength="246.7" lengthAdjust="spacingAndGlyphs">1.65 – 1.96</text>
<rect x="1606.8" y="413.7" width="74" height="31.3" fill="#ee8460" stroke="#141414" stroke-width="4.2"/>
<rect x="1611" y="417.9" width="65.6" height="22.9" fill="none" stroke="#f7a074" stroke-width="2.4" opacity="0.8"/>
<text class="v" x="1436.7" y="447.3" font-size="38.5" textLength="96.6" lengthAdjust="spacingAndGlyphs">0.05</text>
<text class="v" x="1757.1" y="442.5" font-size="38.5" textLength="246.4" lengthAdjust="spacingAndGlyphs">1.96 – 2.58</text>
<rect x="1606.8" y="464.7" width="74" height="30.6" fill="#db3528" stroke="#141414" stroke-width="4.2"/>
<rect x="1611" y="468.9" width="65.6" height="22.2" fill="none" stroke="#ea5040" stroke-width="2.4" opacity="0.8"/>
<text class="v" x="1440.3" y="499.7" font-size="38.5" textLength="95.7" lengthAdjust="spacingAndGlyphs">0.01</text>
<text class="v" x="1757.6" y="495.0" font-size="38.5" textLength="139.4" lengthAdjust="spacingAndGlyphs">&gt; 2.58</text>
<text class="t" x="56.8" y="96.6" font-size="56.0" textLength="384.1" lengthAdjust="spacingAndGlyphs">Moran I:  0.1724</text>
<text class="t" x="61.3" y="190.2" font-size="57.0" textLength="163.9" lengthAdjust="spacingAndGlyphs">Z: 7.93</text>
<text class="t" x="62.4" y="269.8" font-size="57.0" textLength="161.3" lengthAdjust="spacingAndGlyphs">P: 0.00</text>
<text class="t" x="74.7" y="509.5" font-size="75.0" textLength="84.5" lengthAdjust="spacingAndGlyphs">(a)</text>
<text class="t" x="231.8" y="515.5" font-size="71.5" textLength="135.5" lengthAdjust="spacingAndGlyphs">2000</text>
<svg x="278" y="1466" width="376" height="331" viewBox="0 0 1307 1151" preserveAspectRatio="none"><rect x="0" y="0" width="1307" height="1151" fill="#d4d4d4"/><polygon points="12,20 165,20 200,55 225,85 260,140 255,190 220,197 165,200 135,190 115,150 90,115 50,110 45,85 20,65" fill="#fff"/><polygon points="400,95 470,65 530,25 545,90 520,150 470,158 410,148 395,125" fill="#fff"/><polygon points="653,20 803,20 803,130 740,130 720,80 653,75" fill="#fff"/><polygon points="1008,20 1175,20 1145,50 1125,100 1115,150 1008,150" fill="#fff"/><polygon points="1270,60 1288,60 1288,280 1272,280" fill="#fff"/><polygon points="12,295 135,295 290,300 290,340 250,360 240,420 200,440 140,435 110,400 125,335 12,330" fill="#fff"/><polygon points="450,240 530,260 560,300 545,350 490,345 450,330" fill="#fff"/><polygon points="590,390 660,395 670,450 680,490 640,470 600,440" fill="#fff"/><polygon points="888,265 1003,265 1010,310 970,345 900,350 888,300" fill="#fff"/><polygon points="1073,368 1198,365 1200,460 1078,462" fill="#fff"/><polygon points="12,470 90,470 130,530 160,580 110,590 60,610 12,612" fill="#fff"/><polygon points="370,445 450,440 460,500 440,560 380,570 370,520" fill="#fff"/><polygon points="1003,530 1203,530 1195,620 1193,700 1213,730 1263,770 1258,800 1213,820 1178,830 1150,780 1120,740 1080,705 1003,710" fill="#fff"/><polygon points="723,647 783,637 798,607 813,637 903,637 898,687 878,742 818,772 733,777 723,727" fill="#fff"/><polygon points="550,650 640,650 648,810 600,830 580,780 560,720" fill="#fff"/><polygon points="65,697 115,687 270,687 270,802 65,802 50,777 70,742" fill="#fff"/><polygon points="12,897 200,892 150,940 60,960 12,962" fill="#fff"/><polygon points="370,797 415,807 440,827 550,837 535,887 500,967 480,1012 450,992 400,1027 370,1027" fill="#fff"/><polygon points="595,827 653,800 720,790 730,830 718,902 653,927 653,1017 615,992 595,927" fill="#fff"/><polygon points="60,997 125,1002 130,1047 175,1059 255,1057 240,1132 12,1132 12,1077 35,1077 55,1077" fill="#fff"/><polygon points="903,957 1003,957 1003,1132 853,1132 853,1077 903,1092" fill="#fff"/><polygon points="1253,992 1288,992 1288,1087 1268,1077" fill="#fff"/><polygon points="1008,702 1080,705 1120,740 1150,780 1178,830 1193,887 1198,977 1203,1027 1183,1037 1153,1047 1123,1027 1088,982 1053,977 1048,887 1008,872" fill="#d4d4d4" stroke="#999" stroke-width="4"/><polyline points="653,75 653,250 1003,250 1003,20" fill="none" stroke="#a4a4a4" stroke-width="7"/><polyline points="740,20 740,250" fill="none" stroke="#a4a4a4" stroke-width="7"/><polyline points="853,130 853,250" fill="none" stroke="#a4a4a4" stroke-width="7"/><polyline points="1198,150 1198,510" fill="none" stroke="#a4a4a4" stroke-width="7"/><polyline points="375,110 390,560 400,1100" fill="none" stroke="#a4a4a4" stroke-width="7"/><polyline points="12,290 280,290" fill="none" stroke="#a4a4a4" stroke-width="7"/><polyline points="540,250 560,540" fill="none" stroke="#a4a4a4" stroke-width="7"/><polyline points="640,240 640,650" fill="none" stroke="#a4a4a4" stroke-width="7"/><polyline points="760,250 760,460" fill="none" stroke="#a4a4a4" stroke-width="7"/><polyline points="560,520 900,520 1288,515" fill="none" stroke="#a4a4a4" stroke-width="7"/><polyline points="12,450 300,440 520,520" fill="none" stroke="#a4a4a4" stroke-width="7"/><polyline points="100,470 220,600 300,700" fill="none" stroke="#a4a4a4" stroke-width="7"/><polyline points="460,540 470,820" fill="none" stroke="#a4a4a4" stroke-width="7"/><polyline points="560,650 900,650" fill="none" stroke="#a4a4a4" stroke-width="7"/><polyline points="470,620 620,820 720,790 830,760 1000,780" fill="none" stroke="#a4a4a4" stroke-width="7"/><polyline points="730,830 760,900 850,1000" fill="none" stroke="#a4a4a4" stroke-width="7"/><polyline points="350,577 350,1037" fill="none" stroke="#a4a4a4" stroke-width="7"/><polyline points="225,812 225,897" fill="none" stroke="#a4a4a4" stroke-width="7"/><polyline points="30,812 270,812" fill="none" stroke="#a4a4a4" stroke-width="7"/><polyline points="820,880 980,880" fill="none" stroke="#a4a4a4" stroke-width="7"/><polyline points="880,450 1080,370" fill="none" stroke="#a4a4a4" stroke-width="7"/><polyline points="300,20 380,110 450,170" fill="none" stroke="#a4a4a4" stroke-width="7"/><polyline points="500,20 470,60" fill="none" stroke="#a4a4a4" stroke-width="7"/><polyline points="240,1132 260,1077 480,1060" fill="none" stroke="#a4a4a4" stroke-width="7"/><polyline points="1003,20 1003,1132" fill="none" stroke="#a4a4a4" stroke-width="7"/><polyline points="560,300 700,300 900,300" fill="none" stroke="#a4a4a4" stroke-width="7"/><polyline points="700,400 900,400" fill="none" stroke="#a4a4a4" stroke-width="7"/><polyline points="100,200 260,220" fill="none" stroke="#a4a4a4" stroke-width="7"/><polyline points="240,180 290,290" fill="none" stroke="#a4a4a4" stroke-width="7"/><polyline points="115,225 145,290" fill="none" stroke="#a4a4a4" stroke-width="7"/><polyline points="270,145 320,220 325,280" fill="none" stroke="#a4a4a4" stroke-width="7"/><polyline points="235,345 653,345" fill="none" stroke="#a4a4a4" stroke-width="7"/><polyline points="360,345 360,575" fill="none" stroke="#a4a4a4" stroke-width="7"/><polyline points="450,345 455,435" fill="none" stroke="#a4a4a4" stroke-width="7"/><polyline points="545,345 550,500" fill="none" stroke="#a4a4a4" stroke-width="7"/><polyline points="230,440 653,430" fill="none" stroke="#a4a4a4" stroke-width="7"/><polyline points="100,470 250,575" fill="none" stroke="#a4a4a4" stroke-width="7"/><polyline points="265,465 235,575" fill="none" stroke="#a4a4a4" stroke-width="7"/><polyline points="653,140 1003,150" fill="none" stroke="#a4a4a4" stroke-width="7"/><polyline points="1003,330 1200,330" fill="none" stroke="#a4a4a4" stroke-width="7"/><polyline points="560,650 560,800" fill="none" stroke="#a4a4a4" stroke-width="7"/><polyline points="700,520 700,650" fill="none" stroke="#a4a4a4" stroke-width="7"/><polyline points="800,520 800,650" fill="none" stroke="#a4a4a4" stroke-width="7"/><polyline points="30,600 120,640 240,640" fill="none" stroke="#a4a4a4" stroke-width="7"/><polyline points="60,860 280,870" fill="none" stroke="#a4a4a4" stroke-width="7"/><polyline points="740,850 1000,850" fill="none" stroke="#a4a4a4" stroke-width="7"/><polyline points="850,780 850,1000" fill="none" stroke="#a4a4a4" stroke-width="7"/><polyline points="100,1010 250,1000" fill="none" stroke="#a4a4a4" stroke-width="7"/><polygon points="172,20 245,20 272,65 265,85 220,75 195,55" fill="#555" stroke="#1a1a1a" stroke-width="9" stroke-linejoin="round"/><polygon points="548,20 640,20 640,78 555,80" fill="#555" stroke="#1a1a1a" stroke-width="9" stroke-linejoin="round"/><polygon points="955,20 1003,20 1003,130 975,125 960,100" fill="#555" stroke="#1a1a1a" stroke-width="9" stroke-linejoin="round"/><polygon points="1203,20 1288,20 1288,50 1240,58 1210,45" fill="#555" stroke="#1a1a1a" stroke-width="9" stroke-linejoin="round"/><polygon points="292,235 320,230 330,260 370,260 395,280 400,300 448,300 448,343 300,343" fill="#555" stroke="#1a1a1a" stroke-width="9" stroke-linejoin="round"/><polygon points="600,255 615,255 615,320 600,320" fill="#555" stroke="#1a1a1a" stroke-width="9" stroke-linejoin="round"/><polygon points="788,260 868,260 898,300 903,340 888,370 773,360 781,310" fill="#555" stroke="#1a1a1a" stroke-width="9" stroke-linejoin="round"/><polygon points="1093,260 1193,255 1203,290 1228,280 1253,295 1288,300 1288,350 1263,370 1203,365 1153,350 1093,350" fill="#555" stroke="#1a1a1a" stroke-width="9" stroke-linejoin="round"/><polygon points="45,330 65,350 90,335 115,345 138,350 120,380 110,415 95,440 60,460 12,475 12,390 45,380" fill="#555" stroke="#1a1a1a" stroke-width="9" stroke-linejoin="round"/><polygon points="465,450 490,445 540,460 520,490 495,510 470,500" fill="#555" stroke="#1a1a1a" stroke-width="9" stroke-linejoin="round"/><polygon points="673,495 713,460 778,450 848,452 818,475 753,495 683,505" fill="#555" stroke="#1a1a1a" stroke-width="9" stroke-linejoin="round"/><polygon points="918,535 1003,530 1003,787 973,777 933,757 878,747 903,677" fill="#555" stroke="#1a1a1a" stroke-width="9" stroke-linejoin="round"/><polygon points="1208,530 1293,530 1293,822 1253,797 1208,727 1193,627" fill="#555" stroke="#1a1a1a" stroke-width="9" stroke-linejoin="round"/><polygon points="12,627 82,627 85,677 70,697 55,712 30,702 12,687" fill="#555" stroke="#1a1a1a" stroke-width="9" stroke-linejoin="round"/><polygon points="653,652 713,652 718,727 728,787 700,795 653,800" fill="#555" stroke="#1a1a1a" stroke-width="9" stroke-linejoin="round"/><polygon points="305,687 400,690 380,727 350,757 320,797 272,802 272,727 295,707" fill="#555" stroke="#1a1a1a" stroke-width="9" stroke-linejoin="round"/><polygon points="12,967 50,957 100,937 175,917 225,902 282,902 270,947 255,1057 175,1059 130,1047 125,1002 60,997 55,1077 35,1077 30,1007 12,1007" fill="#555" stroke="#1a1a1a" stroke-width="9" stroke-linejoin="round"/><polygon points="565,842 590,847 590,927 615,992 653,1017 653,927 718,902 763,937 743,977 703,1012 653,1045 600,1077 525,1082 495,1092 490,1027 510,967 540,902" fill="#555" stroke="#1a1a1a" stroke-width="9" stroke-linejoin="round"/><polygon points="893,952 948,1007 913,1052 903,1092 883,1047 838,1007" fill="#555" stroke="#1a1a1a" stroke-width="9" stroke-linejoin="round"/><polygon points="1008,872 1048,887 1053,977 1088,982 1123,1027 1153,1047 1183,1037 1203,1027 1198,977 1193,887 1223,877 1253,927 1263,992 1268,1077 1293,1092 1293,1132 1008,1132" fill="#555" stroke="#1a1a1a" stroke-width="9" stroke-linejoin="round"/></svg><rect x="281.0" y="1469.0" width="370.0" height="325.0" fill="none" stroke="#111" stroke-width="6"/>
<svg x="782" y="1467" width="375" height="330" viewBox="0 0 1307 1150" preserveAspectRatio="none"><rect x="0" y="0" width="1307" height="1150" fill="#d4d4d4"/><polygon points="1150,20 1290,20 1290,290 1200,280 1180,250 1180,200 1140,150 1120,120 1130,60" fill="#fff"/><polygon points="120,290 230,280 290,290 300,320 260,330 240,380 230,420 120,420 110,390" fill="#fff"/><polygon points="20,460 80,450 120,500 150,530 100,560 20,590" fill="#fff"/><polygon points="455,230 520,250 550,300 550,330 470,330 460,280" fill="#fff"/><polygon points="545,250 620,245 610,300 580,340 560,330" fill="#fff"/><polygon points="510,400 560,390 600,420 630,450 680,490 760,495 770,525 720,540 660,520 600,510 540,510 510,470" fill="#fff"/><polygon points="550,530 640,525 640,640 550,640" fill="#fff"/><polygon points="880,250 1000,250 1000,320 940,330 900,340 880,300" fill="#fff"/><polygon points="1075,350 1180,350 1190,420 1180,450 1080,450 1065,400" fill="#fff"/><polygon points="355,750 420,760 470,800 550,830 520,900 500,960 480,990 420,980 370,990 350,900" fill="#fff"/><polygon points="490,1090 560,1080 655,1025 755,950 845,955 935,945 1005,955 1005,1132 490,1132" fill="#fff"/><polygon points="540,20 815,20 815,62 735,65 640,62 540,62" fill="#fff"/><polygon points="12,20 30,20 30,280 12,280" fill="#fff"/><polygon points="20,880 230,870 230,900 120,930 20,950" fill="#fff"/><polygon points="180,20 260,20 300,60 260,70 210,50" fill="#fff"/><polygon points="540,20 640,20 640,60 560,70" fill="#fff"/><polygon points="20,600 80,600 90,680 20,690" fill="#fff"/><polyline points="20,260 300,270 380,330 560,330" fill="none" stroke="#a4a4a4" stroke-width="7"/><polyline points="460,200 540,250 560,520" fill="none" stroke="#a4a4a4" stroke-width="7"/><polyline points="640,120 640,520" fill="none" stroke="#a4a4a4" stroke-width="7"/><polyline points="640,230 1000,230 1000,1140" fill="none" stroke="#a4a4a4" stroke-width="7"/><polyline points="1000,500 1290,500" fill="none" stroke="#a4a4a4" stroke-width="7"/><polyline points="540,520 1000,510" fill="none" stroke="#a4a4a4" stroke-width="7"/><polyline points="460,620 620,800 740,790 820,760 1000,750" fill="none" stroke="#a4a4a4" stroke-width="7"/><polyline points="300,560 300,1100" fill="none" stroke="#a4a4a4" stroke-width="7"/><polyline points="100,450 220,570" fill="none" stroke="#a4a4a4" stroke-width="7"/><polyline points="720,640 900,560" fill="none" stroke="#a4a4a4" stroke-width="7"/><polyline points="870,380 1000,330" fill="none" stroke="#a4a4a4" stroke-width="7"/><polyline points="1000,250 1290,250" fill="none" stroke="#a4a4a4" stroke-width="7"/><polyline points="560,660 640,660" fill="none" stroke="#a4a4a4" stroke-width="7"/><polyline points="300,260 300,330 653,325" fill="none" stroke="#a4a4a4" stroke-width="7"/><polyline points="130,280 125,450" fill="none" stroke="#a4a4a4" stroke-width="7"/><polyline points="30,430 300,430" fill="none" stroke="#a4a4a4" stroke-width="7"/><polyline points="500,20 505,230" fill="none" stroke="#a4a4a4" stroke-width="7"/><polyline points="350,80 530,130" fill="none" stroke="#a4a4a4" stroke-width="7"/><polyline points="735,120 735,240" fill="none" stroke="#a4a4a4" stroke-width="7"/><polyline points="845,120 915,240" fill="none" stroke="#a4a4a4" stroke-width="7"/><polyline points="900,20 905,120" fill="none" stroke="#a4a4a4" stroke-width="7"/><polyline points="1100,250 1100,500" fill="none" stroke="#a4a4a4" stroke-width="7"/><polyline points="1200,300 1290,300" fill="none" stroke="#a4a4a4" stroke-width="7"/><polyline points="1015,600 1200,600" fill="none" stroke="#a4a4a4" stroke-width="7"/><polyline points="850,520 850,700 1000,700" fill="none" stroke="#a4a4a4" stroke-width="7"/><polyline points="560,660 560,830" fill="none" stroke="#a4a4a4" stroke-width="7"/><polyline points="380,600 460,620" fill="none" stroke="#a4a4a4" stroke-width="7"/><polyline points="120,600 300,560" fill="none" stroke="#a4a4a4" stroke-width="7"/><polyline points="100,700 300,700" fill="none" stroke="#a4a4a4" stroke-width="7"/><polyline points="1100,850 1290,880" fill="none" stroke="#a4a4a4" stroke-width="7"/><polyline points="500,900 640,900" fill="none" stroke="#a4a4a4" stroke-width="7"/><polyline points="640,800 640,1000" fill="none" stroke="#a4a4a4" stroke-width="7"/><polygon points="45,20 165,20 200,55 270,60 350,90 400,140 365,145 360,235 330,230 290,210 280,175 250,180 220,190 150,185 120,160 105,115 50,100 45,75" fill="#555" stroke="#1a1a1a" stroke-width="9" stroke-linejoin="round"/><polygon points="650,65 730,65 735,115 650,118" fill="#555" stroke="#1a1a1a" stroke-width="9" stroke-linejoin="round"/><polygon points="815,20 950,20 955,105 940,115 840,120 820,95" fill="#555" stroke="#1a1a1a" stroke-width="9" stroke-linejoin="round"/><polygon points="1020,20 1150,20 1120,60 1110,110 1130,145 1080,150 1040,140 1020,100" fill="#555" stroke="#1a1a1a" stroke-width="9" stroke-linejoin="round"/><polygon points="705,245 790,245 790,360 870,365 860,420 840,435 680,430 680,320 700,300" fill="#555" stroke="#1a1a1a" stroke-width="9" stroke-linejoin="round"/><polygon points="370,330 460,330 460,420 510,440 540,450 520,490 500,530 460,540 420,580 400,570 370,520" fill="#555" stroke="#1a1a1a" stroke-width="9" stroke-linejoin="round"/><polygon points="220,520 300,515 305,600 300,670 260,640 220,600 200,580" fill="#555" stroke="#1a1a1a" stroke-width="9" stroke-linejoin="round"/><polygon points="770,480 850,465 930,445 920,510 780,515" fill="#555" stroke="#1a1a1a" stroke-width="9" stroke-linejoin="round"/><polygon points="650,580 680,560 720,540 770,525 770,640 720,650 715,700 720,760 680,780 650,790" fill="#555" stroke="#1a1a1a" stroke-width="9" stroke-linejoin="round"/><polygon points="460,625 480,625 520,670 550,720 460,720" fill="#555" stroke="#1a1a1a" stroke-width="9" stroke-linejoin="round"/><polygon points="1200,520 1290,520 1290,820 1250,800 1230,760 1200,710 1190,600" fill="#555" stroke="#1a1a1a" stroke-width="9" stroke-linejoin="round"/><polygon points="15,665 85,660 95,700 70,740 60,790 225,795 225,880 15,880" fill="#555" stroke="#1a1a1a" stroke-width="9" stroke-linejoin="round"/><polygon points="20,960 120,930 200,900 280,890 270,1000 260,1050 200,1060 140,1040 110,1000 60,1010 30,1060 20,1060" fill="#555" stroke="#1a1a1a" stroke-width="9" stroke-linejoin="round"/><polygon points="730,780 820,770 825,880 790,910 770,940 745,900 730,850" fill="#555" stroke="#1a1a1a" stroke-width="9" stroke-linejoin="round"/><polygon points="1010,690 1090,685 1120,720 1150,760 1160,830 1180,900 1200,960 1210,1010 1170,1030 1130,1030 1100,990 1070,960 1050,930 1040,880 1010,840" fill="#555" stroke="#1a1a1a" stroke-width="9" stroke-linejoin="round"/><polygon points="240,1090 370,1085 380,1140 240,1140" fill="#555" stroke="#1a1a1a" stroke-width="9" stroke-linejoin="round"/><polygon points="420,470 445,470 445,515 420,515" fill="#fff"/></svg><rect x="785.0" y="1470.0" width="369.0" height="324.0" fill="none" stroke="#111" stroke-width="6"/>
<rect x="1290" y="1460" width="406" height="362" fill="#9a9a9a" opacity="0.45" filter="url(#sh)"/>
<rect x="1283.5" y="1451.5" width="406" height="362" fill="none" stroke="#7fb5bd" stroke-width="3"/>
<rect x="1291.85" y="1460.1" width="388.5" height="344.1" fill="none" stroke="#e2281e" stroke-width="13.6"/>
<svg x="1299" y="1467" width="375" height="331" viewBox="0 0 1307 1146" preserveAspectRatio="none"><rect x="0" y="0" width="1307" height="1146" fill="#d4d4d4"/><polygon points="640,0 1307,0 1307,520 1280,530 940,530 920,470 860,470 760,500 700,490 640,470 660,380 605,370 605,255 640,250" fill="#fff"/><polygon points="270,300 330,300 345,345 280,345" fill="#fff"/><polygon points="440,440 500,430 520,520 460,510" fill="#fff"/><polygon points="0,255 110,262 112,290 0,300" fill="#fff"/><polygon points="0,1118 1307,1118 1307,1146 0,1146" fill="#fff"/><polyline points="625,0 625,250" fill="none" stroke="#a4a4a4" stroke-width="7"/><polyline points="1003,0 1003,1146" fill="none" stroke="#a4a4a4" stroke-width="7"/><polyline points="520,530 1307,530" fill="none" stroke="#a4a4a4" stroke-width="7"/><polyline points="10,100 70,110 100,180 125,200 210,195 250,175" fill="none" stroke="#a4a4a4" stroke-width="7"/><polyline points="125,15 200,75 240,170 260,235 350,250 425,300" fill="none" stroke="#a4a4a4" stroke-width="7"/><polyline points="200,75 350,115 480,30" fill="none" stroke="#a4a4a4" stroke-width="7"/><polyline points="350,115 350,240 380,300" fill="none" stroke="#a4a4a4" stroke-width="7"/><polyline points="350,115 425,200 475,245 550,260 650,250" fill="none" stroke="#a4a4a4" stroke-width="7"/><polyline points="475,160 520,135" fill="none" stroke="#a4a4a4" stroke-width="7"/><polyline points="525,30 530,95 645,75" fill="none" stroke="#a4a4a4" stroke-width="7"/><polyline points="430,245 430,440" fill="none" stroke="#a4a4a4" stroke-width="7"/><polyline points="280,320 525,320" fill="none" stroke="#a4a4a4" stroke-width="7"/><polyline points="530,250 545,380 650,490" fill="none" stroke="#a4a4a4" stroke-width="7"/><polyline points="590,260 595,380" fill="none" stroke="#a4a4a4" stroke-width="7"/><polyline points="798,20 803,110 853,240 878,300 903,340 1003,325" fill="none" stroke="#a4a4a4" stroke-width="7"/><polyline points="943,20 953,120" fill="none" stroke="#a4a4a4" stroke-width="7"/><polyline points="718,85 728,250 728,350" fill="none" stroke="#a4a4a4" stroke-width="7"/><polyline points="658,125 1003,130" fill="none" stroke="#a4a4a4" stroke-width="7"/><polyline points="653,250 1203,250" fill="none" stroke="#a4a4a4" stroke-width="7"/><polyline points="1033,160 1153,165 1188,175 1183,250" fill="none" stroke="#a4a4a4" stroke-width="7"/><polyline points="1113,130 1173,30 1253,20" fill="none" stroke="#a4a4a4" stroke-width="7"/><polyline points="1088,250 1093,350 1073,450 1103,465 1183,460" fill="none" stroke="#a4a4a4" stroke-width="7"/><polyline points="653,355 1303,360" fill="none" stroke="#a4a4a4" stroke-width="7"/><polyline points="853,375 1013,380 933,450 828,465 703,500" fill="none" stroke="#a4a4a4" stroke-width="7"/><polyline points="1193,370 1183,530" fill="none" stroke="#a4a4a4" stroke-width="7"/><polyline points="1203,285 1303,310" fill="none" stroke="#a4a4a4" stroke-width="7"/><polyline points="763,250 768,450" fill="none" stroke="#a4a4a4" stroke-width="7"/><polyline points="653,650 768,650 773,575" fill="none" stroke="#a4a4a4" stroke-width="7"/><polyline points="803,605 808,645 903,650 883,725 818,775 978,785" fill="none" stroke="#a4a4a4" stroke-width="7"/><polyline points="818,775 818,915 768,920 653,925" fill="none" stroke="#a4a4a4" stroke-width="7"/><polyline points="703,725 718,900 768,960 693,1025 653,1050" fill="none" stroke="#a4a4a4" stroke-width="7"/><polyline points="768,960 853,1025 888,1100 933,1015 913,975 998,970" fill="none" stroke="#a4a4a4" stroke-width="7"/><polyline points="818,915 883,955 998,965" fill="none" stroke="#a4a4a4" stroke-width="7"/><polyline points="1008,705 1093,700 1153,775 1183,875 1188,965 1203,1015 1143,1055 1103,1000 1053,975 1043,900 1008,880" fill="none" stroke="#a4a4a4" stroke-width="7"/><polyline points="1203,575 1198,725 1268,775 1203,835 1183,875" fill="none" stroke="#a4a4a4" stroke-width="7"/><polyline points="1253,875 1278,1000 1268,1100" fill="none" stroke="#a4a4a4" stroke-width="7"/><polyline points="0,900 240,900" fill="none" stroke="#a4a4a4" stroke-width="7"/><polyline points="0,1000 245,1035" fill="none" stroke="#a4a4a4" stroke-width="7"/><polyline points="640,670 640,830 560,900 540,1000 520,1118" fill="none" stroke="#a4a4a4" stroke-width="7"/><polyline points="330,1040 450,1060 560,1118" fill="none" stroke="#a4a4a4" stroke-width="7"/><polyline points="100,850 200,850" fill="none" stroke="#a4a4a4" stroke-width="7"/><polygon points="0,330 15,330 110,330 110,290 260,290 260,345 340,345 340,445 435,445 435,510 500,510 525,540 525,670 625,670 625,810 530,855 470,995 430,985 390,1015 330,1040 245,1035 250,900 205,895 200,810 85,792 80,680 0,680" fill="#555" stroke="#1a1a1a" stroke-width="9" stroke-linejoin="round"/><polyline points="100,400 200,520 300,600 400,700 450,800" fill="none" stroke="#4a4a4a" stroke-width="6"/><polyline points="300,450 250,600 200,700" fill="none" stroke="#4a4a4a" stroke-width="6"/><polyline points="450,600 350,750 300,850" fill="none" stroke="#4a4a4a" stroke-width="6"/><polyline points="500,700 600,780" fill="none" stroke="#4a4a4a" stroke-width="6"/><polyline points="150,650 350,680" fill="none" stroke="#4a4a4a" stroke-width="6"/></svg><rect x="1302.0" y="1470.0" width="369.0" height="325.0" fill="none" stroke="#111" stroke-width="6"/>
<rect x="1549" y="1297.3" width="16" height="16" fill="#2a4a4e"/>
<rect x="1553" y="1301.3" width="8" height="8" fill="#f01010"/>
<rect x="1549" y="1329.8" width="16" height="16" fill="#2a4a4e"/>
<rect x="1553" y="1333.8" width="8" height="8" fill="#f01010"/>
<rect x="1549" y="1362.3" width="16" height="16" fill="#2a4a4e"/>
<rect x="1553" y="1366.3" width="8" height="8" fill="#f01010"/>
<rect x="1549" y="1394.8" width="16" height="16" fill="#2a4a4e"/>
<rect x="1553" y="1398.8" width="8" height="8" fill="#f01010"/>
<rect x="1549" y="1427.3" width="16" height="16" fill="#2a4a4e"/>
<rect x="1553" y="1431.3" width="8" height="8" fill="#f01010"/>
</g>
<g transform="translate(0,2137.5)">
<clipPath id="cb0"><path d="M258.0,1293.5 L258.0,1290.9 261.0,1290.8 264.0,1290.6 267.0,1290.5 269.9,1290.3 272.9,1290.1 275.9,1290.0 278.9,1289.8 281.9,1289.6 284.9,1289.4 287.8,1289.2 290.8,1288.9 293.8,1288.7 296.8,1288.5 299.8,1288.2 302.8,1288.0 305.7,1287.7 308.7,1287.4 311.7,1287.1 314.7,1286.8 317.7,1286.4 320.7,1286.1 323.7,1285.7 326.6,1285.4 329.6,1285.0 332.6,1284.6 335.6,1284.2 338.6,1283.7 341.6,1283.3 344.5,1282.8 347.5,1282.3 350.5,1281.8 353.5,1281.2 356.5,1280.7 359.5,1280.1 362.4,1279.5 365.4,1278.8 368.4,1278.2 371.4,1277.5 374.4,1276.8 377.4,1276.0 380.3,1275.3 383.3,1274.5 386.3,1273.6 389.3,1272.8 392.3,1271.9 395.3,1270.9 398.3,1270.0 401.2,1269.0 404.2,1268.0 407.2,1266.9 410.2,1265.8 413.2,1264.6 416.2,1263.4 419.1,1262.2 422.1,1260.9 425.1,1259.6 428.1,1258.2 431.1,1256.8 434.1,1255.3 437.0,1253.8 440.0,1252.3 443.0,1250.6 446.0,1249.0 L446.0,1293.5 Z"/></clipPath>
<path d="M258.0,1293.5 L258.0,1290.9 261.0,1290.8 264.0,1290.6 267.0,1290.5 269.9,1290.3 272.9,1290.1 275.9,1290.0 278.9,1289.8 281.9,1289.6 284.9,1289.4 287.8,1289.2 290.8,1288.9 293.8,1288.7 296.8,1288.5 299.8,1288.2 302.8,1288.0 305.7,1287.7 308.7,1287.4 311.7,1287.1 314.7,1286.8 317.7,1286.4 320.7,1286.1 323.7,1285.7 326.6,1285.4 329.6,1285.0 332.6,1284.6 335.6,1284.2 338.6,1283.7 341.6,1283.3 344.5,1282.8 347.5,1282.3 350.5,1281.8 353.5,1281.2 356.5,1280.7 359.5,1280.1 362.4,1279.5 365.4,1278.8 368.4,1278.2 371.4,1277.5 374.4,1276.8 377.4,1276.0 380.3,1275.3 383.3,1274.5 386.3,1273.6 389.3,1272.8 392.3,1271.9 395.3,1270.9 398.3,1270.0 401.2,1269.0 404.2,1268.0 407.2,1266.9 410.2,1265.8 413.2,1264.6 416.2,1263.4 419.1,1262.2 422.1,1260.9 425.1,1259.6 428.1,1258.2 431.1,1256.8 434.1,1255.3 437.0,1253.8 440.0,1252.3 443.0,1250.6 446.0,1249.0 L446.0,1293.5 Z" fill="#4a7ebb"/>
<path d="M258.0,1293.5 L258.0,1290.9 261.0,1290.8 264.0,1290.6 267.0,1290.5 269.9,1290.3 272.9,1290.1 275.9,1290.0 278.9,1289.8 281.9,1289.6 284.9,1289.4 287.8,1289.2 290.8,1288.9 293.8,1288.7 296.8,1288.5 299.8,1288.2 302.8,1288.0 305.7,1287.7 308.7,1287.4 311.7,1287.1 314.7,1286.8 317.7,1286.4 320.7,1286.1 323.7,1285.7 326.6,1285.4 329.6,1285.0 332.6,1284.6 335.6,1284.2 338.6,1283.7 341.6,1283.3 344.5,1282.8 347.5,1282.3 350.5,1281.8 353.5,1281.2 356.5,1280.7 359.5,1280.1 362.4,1279.5 365.4,1278.8 368.4,1278.2 371.4,1277.5 374.4,1276.8 377.4,1276.0 380.3,1275.3 383.3,1274.5 386.3,1273.6 389.3,1272.8 392.3,1271.9 395.3,1270.9 398.3,1270.0 401.2,1269.0 404.2,1268.0 407.2,1266.9 410.2,1265.8 413.2,1264.6 416.2,1263.4 419.1,1262.2 422.1,1260.9 425.1,1259.6 428.1,1258.2 431.1,1256.8 434.1,1255.3 437.0,1253.8 440.0,1252.3 443.0,1250.6 446.0,1249.0 L446.0,1293.5 Z" fill="none" stroke="#62a2dc" stroke-width="12" clip-path="url(#cb0)"/>
<clipPath id="cb1"><path d="M446.0,1293.5 L446.0,1249.0 449.0,1247.2 452.0,1245.5 454.9,1243.6 457.9,1241.7 460.9,1239.8 463.9,1237.7 466.8,1235.7 469.8,1233.5 472.8,1231.3 475.8,1229.0 478.7,1226.7 481.7,1224.3 484.7,1221.8 487.7,1219.2 490.6,1216.6 493.6,1213.8 496.6,1211.0 499.6,1208.2 502.5,1205.2 505.5,1202.2 508.5,1199.1 511.5,1195.8 514.5,1192.5 517.4,1189.2 520.4,1185.7 523.4,1182.1 526.4,1178.5 529.3,1174.7 532.3,1170.9 535.3,1166.9 538.3,1162.9 541.2,1158.7 544.2,1154.5 547.2,1150.1 550.2,1145.7 553.1,1141.1 556.1,1136.5 559.1,1131.7 562.1,1126.8 565.0,1121.8 568.0,1116.7 571.0,1111.5 L571.0,1293.5 Z"/></clipPath>
<path d="M446.0,1293.5 L446.0,1249.0 449.0,1247.2 452.0,1245.5 454.9,1243.6 457.9,1241.7 460.9,1239.8 463.9,1237.7 466.8,1235.7 469.8,1233.5 472.8,1231.3 475.8,1229.0 478.7,1226.7 481.7,1224.3 484.7,1221.8 487.7,1219.2 490.6,1216.6 493.6,1213.8 496.6,1211.0 499.6,1208.2 502.5,1205.2 505.5,1202.2 508.5,1199.1 511.5,1195.8 514.5,1192.5 517.4,1189.2 520.4,1185.7 523.4,1182.1 526.4,1178.5 529.3,1174.7 532.3,1170.9 535.3,1166.9 538.3,1162.9 541.2,1158.7 544.2,1154.5 547.2,1150.1 550.2,1145.7 553.1,1141.1 556.1,1136.5 559.1,1131.7 562.1,1126.8 565.0,1121.8 568.0,1116.7 571.0,1111.5 L571.0,1293.5 Z" fill="#8fa5c1"/>
<path d="M446.0,1293.5 L446.0,1249.0 449.0,1247.2 452.0,1245.5 454.9,1243.6 457.9,1241.7 460.9,1239.8 463.9,1237.7 466.8,1235.7 469.8,1233.5 472.8,1231.3 475.8,1229.0 478.7,1226.7 481.7,1224.3 484.7,1221.8 487.7,1219.2 490.6,1216.6 493.6,1213.8 496.6,1211.0 499.6,1208.2 502.5,1205.2 505.5,1202.2 508.5,1199.1 511.5,1195.8 514.5,1192.5 517.4,1189.2 520.4,1185.7 523.4,1182.1 526.4,1178.5 529.3,1174.7 532.3,1170.9 535.3,1166.9 538.3,1162.9 541.2,1158.7 544.2,1154.5 547.2,1150.1 550.2,1145.7 553.1,1141.1 556.1,1136.5 559.1,1131.7 562.1,1126.8 565.0,1121.8 568.0,1116.7 571.0,1111.5 L571.0,1293.5 Z" fill="none" stroke="#b2c4da" stroke-width="12" clip-path="url(#cb1)"/>
<clipPath id="cb2"><path d="M571.0,1293.5 L571.0,1111.5 573.9,1106.3 576.8,1101.0 579.7,1095.6 582.6,1090.0 585.5,1084.4 588.5,1078.6 591.4,1072.7 594.3,1066.8 597.2,1060.7 600.1,1054.5 603.0,1048.1 605.9,1041.7 608.8,1035.1 611.7,1028.4 614.6,1021.7 617.5,1014.8 620.5,1007.7 623.4,1000.6 626.3,993.3 629.2,986.0 632.1,978.5 635.0,970.9 L635.0,1293.5 Z"/></clipPath>
<path d="M571.0,1293.5 L571.0,1111.5 573.9,1106.3 576.8,1101.0 579.7,1095.6 582.6,1090.0 585.5,1084.4 588.5,1078.6 591.4,1072.7 594.3,1066.8 597.2,1060.7 600.1,1054.5 603.0,1048.1 605.9,1041.7 608.8,1035.1 611.7,1028.4 614.6,1021.7 617.5,1014.8 620.5,1007.7 623.4,1000.6 626.3,993.3 629.2,986.0 632.1,978.5 635.0,970.9 L635.0,1293.5 Z" fill="#c8d0c4"/>
<path d="M571.0,1293.5 L571.0,1111.5 573.9,1106.3 576.8,1101.0 579.7,1095.6 582.6,1090.0 585.5,1084.4 588.5,1078.6 591.4,1072.7 594.3,1066.8 597.2,1060.7 600.1,1054.5 603.0,1048.1 605.9,1041.7 608.8,1035.1 611.7,1028.4 614.6,1021.7 617.5,1014.8 620.5,1007.7 623.4,1000.6 626.3,993.3 629.2,986.0 632.1,978.5 635.0,970.9 L635.0,1293.5 Z" fill="none" stroke="#dde4da" stroke-width="12" clip-path="url(#cb2)"/>
<clipPath id="cb3"><path d="M635.0,1293.5 L635.0,970.9 638.0,962.9 641.0,954.9 644.0,946.7 647.0,938.4 650.0,930.0 652.9,921.5 655.9,912.8 658.9,904.0 661.9,895.2 664.9,886.2 667.9,877.1 670.9,867.8 673.9,858.5 676.9,849.1 679.9,839.6 682.9,829.9 685.8,820.2 688.8,810.3 691.8,800.4 694.8,790.4 697.8,780.3 700.8,770.0 703.8,759.8 706.8,749.4 709.8,738.9 712.8,728.4 715.8,717.8 718.7,707.1 721.7,696.3 724.7,685.5 727.7,674.7 730.7,663.7 733.7,652.8 736.7,641.7 739.7,630.7 742.7,619.5 745.7,608.4 748.7,597.2 751.7,586.0 754.6,574.8 757.6,563.5 760.6,552.3 763.6,541.0 766.6,529.7 769.6,518.4 772.6,507.2 775.6,495.9 778.6,484.7 781.6,473.5 784.6,462.3 787.5,451.1 790.5,440.0 793.5,428.9 796.5,417.9 799.5,406.9 802.5,396.0 805.5,385.1 808.5,374.3 811.5,363.6 814.5,353.0 817.5,342.5 820.4,332.0 823.4,321.7 826.4,311.4 829.4,301.3 832.4,291.2 835.4,281.3 838.4,271.6 841.4,261.9 844.4,252.4 847.4,243.1 850.4,233.9 853.3,224.8 856.3,215.9 859.3,207.2 862.3,198.6 865.3,190.2 868.3,182.0 871.3,173.9 874.3,166.1 877.3,158.5 880.3,151.0 883.3,143.8 886.2,136.7 889.2,129.9 892.2,123.3 895.2,116.9 898.2,110.7 901.2,104.8 904.2,99.1 907.2,93.6 910.2,88.4 913.2,83.4 916.2,78.7 919.1,74.2 922.1,69.9 925.1,66.0 928.1,62.2 931.1,58.8 934.1,55.6 937.1,52.6 940.1,49.9 943.1,47.5 946.1,45.4 949.1,43.5 952.0,41.9 955.0,40.6 958.0,39.5 961.0,38.7 964.0,38.2 967.0,38.0 970.0,38.1 973.0,38.4 976.0,39.0 979.0,39.8 982.0,41.0 985.0,42.4 987.9,44.1 990.9,46.1 993.9,48.3 996.9,50.8 999.9,53.6 1002.9,56.6 1005.9,59.9 1008.9,63.4 1011.9,67.3 1014.9,71.3 1017.9,75.7 1020.8,80.2 1023.8,85.1 1026.8,90.1 1029.8,95.4 1032.8,101.0 1035.8,106.8 1038.8,112.8 1041.8,119.0 1044.8,125.5 1047.8,132.2 1050.8,139.1 1053.7,146.2 1056.7,153.5 1059.7,161.0 1062.7,168.7 1065.7,176.6 1068.7,184.7 1071.7,193.0 1074.7,201.4 1077.7,210.1 1080.7,218.8 1083.7,227.8 1086.6,236.9 1089.6,246.2 1092.6,255.6 1095.6,265.1 1098.6,274.8 1101.6,284.6 1104.6,294.6 1107.6,304.6 1110.6,314.8 1113.6,325.1 1116.6,335.5 1119.5,346.0 1122.5,356.5 1125.5,367.2 1128.5,377.9 1131.5,388.7 1134.5,399.6 1137.5,410.6 1140.5,421.6 1143.5,432.6 1146.5,443.7 1149.5,454.8 1152.4,466.0 1155.4,477.2 1158.4,488.4 1161.4,499.7 1164.4,510.9 1167.4,522.2 1170.4,533.5 1173.4,544.8 1176.4,556.0 1179.4,567.3 1182.4,578.5 1185.3,589.8 1188.3,601.0 1191.3,612.1 1194.3,623.3 1197.3,634.4 1200.3,645.4 1203.3,656.4 1206.3,667.4 1209.3,678.3 1212.3,689.2 1215.3,699.9 1218.3,710.7 1221.2,721.3 1224.2,731.9 1227.2,742.4 1230.2,752.9 1233.2,763.2 1236.2,773.5 1239.2,783.7 1242.2,793.7 1245.2,803.7 1248.2,813.6 1251.2,823.4 1254.1,833.2 1257.1,842.8 1260.1,852.3 1263.1,861.7 1266.1,870.9 1269.1,880.1 1272.1,889.2 1275.1,898.1 1278.1,907.0 1281.1,915.7 1284.1,924.3 1287.0,932.8 1290.0,941.2 1293.0,949.5 1296.0,957.6 1299.0,965.6 1302.0,973.5 L1302.0,1293.5 Z"/></clipPath>
<path d="M635.0,1293.5 L635.0,970.9 638.0,962.9 641.0,954.9 644.0,946.7 647.0,938.4 650.0,930.0 652.9,921.5 655.9,912.8 658.9,904.0 661.9,895.2 664.9,886.2 667.9,877.1 670.9,867.8 673.9,858.5 676.9,849.1 679.9,839.6 682.9,829.9 685.8,820.2 688.8,810.3 691.8,800.4 694.8,790.4 697.8,780.3 700.8,770.0 703.8,759.8 706.8,749.4 709.8,738.9 712.8,728.4 715.8,717.8 718.7,707.1 721.7,696.3 724.7,685.5 727.7,674.7 730.7,663.7 733.7,652.8 736.7,641.7 739.7,630.7 742.7,619.5 745.7,608.4 748.7,597.2 751.7,586.0 754.6,574.8 757.6,563.5 760.6,552.3 763.6,541.0 766.6,529.7 769.6,518.4 772.6,507.2 775.6,495.9 778.6,484.7 781.6,473.5 784.6,462.3 787.5,451.1 790.5,440.0 793.5,428.9 796.5,417.9 799.5,406.9 802.5,396.0 805.5,385.1 808.5,374.3 811.5,363.6 814.5,353.0 817.5,342.5 820.4,332.0 823.4,321.7 826.4,311.4 829.4,301.3 832.4,291.2 835.4,281.3 838.4,271.6 841.4,261.9 844.4,252.4 847.4,243.1 850.4,233.9 853.3,224.8 856.3,215.9 859.3,207.2 862.3,198.6 865.3,190.2 868.3,182.0 871.3,173.9 874.3,166.1 877.3,158.5 880.3,151.0 883.3,143.8 886.2,136.7 889.2,129.9 892.2,123.3 895.2,116.9 898.2,110.7 901.2,104.8 904.2,99.1 907.2,93.6 910.2,88.4 913.2,83.4 916.2,78.7 919.1,74.2 922.1,69.9 925.1,66.0 928.1,62.2 931.1,58.8 934.1,55.6 937.1,52.6 940.1,49.9 943.1,47.5 946.1,45.4 949.1,43.5 952.0,41.9 955.0,40.6 958.0,39.5 961.0,38.7 964.0,38.2 967.0,38.0 970.0,38.1 973.0,38.4 976.0,39.0 979.0,39.8 982.0,41.0 985.0,42.4 987.9,44.1 990.9,46.1 993.9,48.3 996.9,50.8 999.9,53.6 1002.9,56.6 1005.9,59.9 1008.9,63.4 1011.9,67.3 1014.9,71.3 1017.9,75.7 1020.8,80.2 1023.8,85.1 1026.8,90.1 1029.8,95.4 1032.8,101.0 1035.8,106.8 1038.8,112.8 1041.8,119.0 1044.8,125.5 1047.8,132.2 1050.8,139.1 1053.7,146.2 1056.7,153.5 1059.7,161.0 1062.7,168.7 1065.7,176.6 1068.7,184.7 1071.7,193.0 1074.7,201.4 1077.7,210.1 1080.7,218.8 1083.7,227.8 1086.6,236.9 1089.6,246.2 1092.6,255.6 1095.6,265.1 1098.6,274.8 1101.6,284.6 1104.6,294.6 1107.6,304.6 1110.6,314.8 1113.6,325.1 1116.6,335.5 1119.5,346.0 1122.5,356.5 1125.5,367.2 1128.5,377.9 1131.5,388.7 1134.5,399.6 1137.5,410.6 1140.5,421.6 1143.5,432.6 1146.5,443.7 1149.5,454.8 1152.4,466.0 1155.4,477.2 1158.4,488.4 1161.4,499.7 1164.4,510.9 1167.4,522.2 1170.4,533.5 1173.4,544.8 1176.4,556.0 1179.4,567.3 1182.4,578.5 1185.3,589.8 1188.3,601.0 1191.3,612.1 1194.3,623.3 1197.3,634.4 1200.3,645.4 1203.3,656.4 1206.3,667.4 1209.3,678.3 1212.3,689.2 1215.3,699.9 1218.3,710.7 1221.2,721.3 1224.2,731.9 1227.2,742.4 1230.2,752.9 1233.2,763.2 1236.2,773.5 1239.2,783.7 1242.2,793.7 1245.2,803.7 1248.2,813.6 1251.2,823.4 1254.1,833.2 1257.1,842.8 1260.1,852.3 1263.1,861.7 1266.1,870.9 1269.1,880.1 1272.1,889.2 1275.1,898.1 1278.1,907.0 1281.1,915.7 1284.1,924.3 1287.0,932.8 1290.0,941.2 1293.0,949.5 1296.0,957.6 1299.0,965.6 1302.0,973.5 L1302.0,1293.5 Z" fill="#fffcc8"/>
<path d="M635.0,1293.5 L635.0,970.9 638.0,962.9 641.0,954.9 644.0,946.7 647.0,938.4 650.0,930.0 652.9,921.5 655.9,912.8 658.9,904.0 661.9,895.2 664.9,886.2 667.9,877.1 670.9,867.8 673.9,858.5 676.9,849.1 679.9,839.6 682.9,829.9 685.8,820.2 688.8,810.3 691.8,800.4 694.8,790.4 697.8,780.3 700.8,770.0 703.8,759.8 706.8,749.4 709.8,738.9 712.8,728.4 715.8,717.8 718.7,707.1 721.7,696.3 724.7,685.5 727.7,674.7 730.7,663.7 733.7,652.8 736.7,641.7 739.7,630.7 742.7,619.5 745.7,608.4 748.7,597.2 751.7,586.0 754.6,574.8 757.6,563.5 760.6,552.3 763.6,541.0 766.6,529.7 769.6,518.4 772.6,507.2 775.6,495.9 778.6,484.7 781.6,473.5 784.6,462.3 787.5,451.1 790.5,440.0 793.5,428.9 796.5,417.9 799.5,406.9 802.5,396.0 805.5,385.1 808.5,374.3 811.5,363.6 814.5,353.0 817.5,342.5 820.4,332.0 823.4,321.7 826.4,311.4 829.4,301.3 832.4,291.2 835.4,281.3 838.4,271.6 841.4,261.9 844.4,252.4 847.4,243.1 850.4,233.9 853.3,224.8 856.3,215.9 859.3,207.2 862.3,198.6 865.3,190.2 868.3,182.0 871.3,173.9 874.3,166.1 877.3,158.5 880.3,151.0 883.3,143.8 886.2,136.7 889.2,129.9 892.2,123.3 895.2,116.9 898.2,110.7 901.2,104.8 904.2,99.1 907.2,93.6 910.2,88.4 913.2,83.4 916.2,78.7 919.1,74.2 922.1,69.9 925.1,66.0 928.1,62.2 931.1,58.8 934.1,55.6 937.1,52.6 940.1,49.9 943.1,47.5 946.1,45.4 949.1,43.5 952.0,41.9 955.0,40.6 958.0,39.5 961.0,38.7 964.0,38.2 967.0,38.0 970.0,38.1 973.0,38.4 976.0,39.0 979.0,39.8 982.0,41.0 985.0,42.4 987.9,44.1 990.9,46.1 993.9,48.3 996.9,50.8 999.9,53.6 1002.9,56.6 1005.9,59.9 1008.9,63.4 1011.9,67.3 1014.9,71.3 1017.9,75.7 1020.8,80.2 1023.8,85.1 1026.8,90.1 1029.8,95.4 1032.8,101.0 1035.8,106.8 1038.8,112.8 1041.8,119.0 1044.8,125.5 1047.8,132.2 1050.8,139.1 1053.7,146.2 1056.7,153.5 1059.7,161.0 1062.7,168.7 1065.7,176.6 1068.7,184.7 1071.7,193.0 1074.7,201.4 1077.7,210.1 1080.7,218.8 1083.7,227.8 1086.6,236.9 1089.6,246.2 1092.6,255.6 1095.6,265.1 1098.6,274.8 1101.6,284.6 1104.6,294.6 1107.6,304.6 1110.6,314.8 1113.6,325.1 1116.6,335.5 1119.5,346.0 1122.5,356.5 1125.5,367.2 1128.5,377.9 1131.5,388.7 1134.5,399.6 1137.5,410.6 1140.5,421.6 1143.5,432.6 1146.5,443.7 1149.5,454.8 1152.4,466.0 1155.4,477.2 1158.4,488.4 1161.4,499.7 1164.4,510.9 1167.4,522.2 1170.4,533.5 1173.4,544.8 1176.4,556.0 1179.4,567.3 1182.4,578.5 1185.3,589.8 1188.3,601.0 1191.3,612.1 1194.3,623.3 1197.3,634.4 1200.3,645.4 1203.3,656.4 1206.3,667.4 1209.3,678.3 1212.3,689.2 1215.3,699.9 1218.3,710.7 1221.2,721.3 1224.2,731.9 1227.2,742.4 1230.2,752.9 1233.2,763.2 1236.2,773.5 1239.2,783.7 1242.2,793.7 1245.2,803.7 1248.2,813.6 1251.2,823.4 1254.1,833.2 1257.1,842.8 1260.1,852.3 1263.1,861.7 1266.1,870.9 1269.1,880.1 1272.1,889.2 1275.1,898.1 1278.1,907.0 1281.1,915.7 1284.1,924.3 1287.0,932.8 1290.0,941.2 1293.0,949.5 1296.0,957.6 1299.0,965.6 1302.0,973.5 L1302.0,1293.5 Z" fill="none" stroke="#fffee6" stroke-width="12" clip-path="url(#cb3)"/>
<clipPath id="cb4"><path d="M1302.0,1293.5 L1302.0,973.5 1304.9,980.9 1307.7,988.3 1310.6,995.5 1313.5,1002.6 1316.3,1009.6 1319.2,1016.5 1322.0,1023.3 1324.9,1029.9 1327.8,1036.5 1330.6,1042.9 1333.5,1049.2 1336.4,1055.4 1339.2,1061.5 1342.1,1067.5 1345.0,1073.4 1347.8,1079.2 1350.7,1084.8 1353.5,1090.4 1356.4,1095.8 1359.3,1101.1 1362.1,1106.4 1365.0,1111.5 L1365.0,1293.5 Z"/></clipPath>
<path d="M1302.0,1293.5 L1302.0,973.5 1304.9,980.9 1307.7,988.3 1310.6,995.5 1313.5,1002.6 1316.3,1009.6 1319.2,1016.5 1322.0,1023.3 1324.9,1029.9 1327.8,1036.5 1330.6,1042.9 1333.5,1049.2 1336.4,1055.4 1339.2,1061.5 1342.1,1067.5 1345.0,1073.4 1347.8,1079.2 1350.7,1084.8 1353.5,1090.4 1356.4,1095.8 1359.3,1101.1 1362.1,1106.4 1365.0,1111.5 L1365.0,1293.5 Z" fill="#f8bd8e"/>
<path d="M1302.0,1293.5 L1302.0,973.5 1304.9,980.9 1307.7,988.3 1310.6,995.5 1313.5,1002.6 1316.3,1009.6 1319.2,1016.5 1322.0,1023.3 1324.9,1029.9 1327.8,1036.5 1330.6,1042.9 1333.5,1049.2 1336.4,1055.4 1339.2,1061.5 1342.1,1067.5 1345.0,1073.4 1347.8,1079.2 1350.7,1084.8 1353.5,1090.4 1356.4,1095.8 1359.3,1101.1 1362.1,1106.4 1365.0,1111.5 L1365.0,1293.5 Z" fill="none" stroke="#fcd4a8" stroke-width="12" clip-path="url(#cb4)"/>
<clipPath id="cb5"><path d="M1365.0,1293.5 L1365.0,1111.5 1367.9,1116.6 1370.9,1121.7 1373.8,1126.6 1376.7,1131.4 1379.7,1136.1 1382.6,1140.7 1385.5,1145.2 1388.4,1149.6 1391.4,1153.9 1394.3,1158.1 1397.2,1162.2 1400.2,1166.2 1403.1,1170.1 1406.0,1173.9 1409.0,1177.6 1411.9,1181.2 1414.8,1184.8 1417.7,1188.2 1420.7,1191.6 1423.6,1194.8 1426.5,1198.0 1429.5,1201.1 1432.4,1204.1 1435.3,1207.1 1438.3,1209.9 1441.2,1212.7 1444.1,1215.4 1447.0,1218.1 1450.0,1220.6 1452.9,1223.1 1455.8,1225.5 1458.8,1227.9 1461.7,1230.2 1464.6,1232.4 1467.6,1234.5 1470.5,1236.6 1473.4,1238.6 1476.3,1240.6 1479.3,1242.5 1482.2,1244.3 1485.1,1246.1 1488.1,1247.9 1491.0,1249.5 L1491.0,1293.5 Z"/></clipPath>
<path d="M1365.0,1293.5 L1365.0,1111.5 1367.9,1116.6 1370.9,1121.7 1373.8,1126.6 1376.7,1131.4 1379.7,1136.1 1382.6,1140.7 1385.5,1145.2 1388.4,1149.6 1391.4,1153.9 1394.3,1158.1 1397.2,1162.2 1400.2,1166.2 1403.1,1170.1 1406.0,1173.9 1409.0,1177.6 1411.9,1181.2 1414.8,1184.8 1417.7,1188.2 1420.7,1191.6 1423.6,1194.8 1426.5,1198.0 1429.5,1201.1 1432.4,1204.1 1435.3,1207.1 1438.3,1209.9 1441.2,1212.7 1444.1,1215.4 1447.0,1218.1 1450.0,1220.6 1452.9,1223.1 1455.8,1225.5 1458.8,1227.9 1461.7,1230.2 1464.6,1232.4 1467.6,1234.5 1470.5,1236.6 1473.4,1238.6 1476.3,1240.6 1479.3,1242.5 1482.2,1244.3 1485.1,1246.1 1488.1,1247.9 1491.0,1249.5 L1491.0,1293.5 Z" fill="#ee8460"/>
<path d="M1365.0,1293.5 L1365.0,1111.5 1367.9,1116.6 1370.9,1121.7 1373.8,1126.6 1376.7,1131.4 1379.7,1136.1 1382.6,1140.7 1385.5,1145.2 1388.4,1149.6 1391.4,1153.9 1394.3,1158.1 1397.2,1162.2 1400.2,1166.2 1403.1,1170.1 1406.0,1173.9 1409.0,1177.6 1411.9,1181.2 1414.8,1184.8 1417.7,1188.2 1420.7,1191.6 1423.6,1194.8 1426.5,1198.0 1429.5,1201.1 1432.4,1204.1 1435.3,1207.1 1438.3,1209.9 1441.2,1212.7 1444.1,1215.4 1447.0,1218.1 1450.0,1220.6 1452.9,1223.1 1455.8,1225.5 1458.8,1227.9 1461.7,1230.2 1464.6,1232.4 1467.6,1234.5 1470.5,1236.6 1473.4,1238.6 1476.3,1240.6 1479.3,1242.5 1482.2,1244.3 1485.1,1246.1 1488.1,1247.9 1491.0,1249.5 L1491.0,1293.5 Z" fill="none" stroke="#f7a074" stroke-width="12" clip-path="url(#cb5)"/>
<clipPath id="cb6"><path d="M1491.0,1293.5 L1491.0,1249.5 1494.0,1251.2 1497.0,1252.8 1499.9,1254.3 1502.9,1255.8 1505.9,1257.3 1508.9,1258.7 1511.8,1260.0 1514.8,1261.3 1517.8,1262.6 1520.8,1263.8 1523.7,1265.0 1526.7,1266.1 1529.7,1267.2 1532.7,1268.3 1535.6,1269.3 1538.6,1270.3 1541.6,1271.2 1544.6,1272.1 1547.5,1273.0 1550.5,1273.9 1553.5,1274.7 1556.5,1275.5 1559.4,1276.2 1562.4,1277.0 1565.4,1277.7 1568.4,1278.3 1571.3,1279.0 1574.3,1279.6 1577.3,1280.2 1580.3,1280.8 1583.2,1281.4 1586.2,1281.9 1589.2,1282.4 1592.2,1282.9 1595.1,1283.4 1598.1,1283.8 1601.1,1284.3 1604.1,1284.7 1607.0,1285.1 1610.0,1285.5 1613.0,1285.8 1616.0,1286.2 1618.9,1286.5 1621.9,1286.8 1624.9,1287.2 1627.9,1287.5 1630.8,1287.7 1633.8,1288.0 1636.8,1288.3 1639.8,1288.5 1642.7,1288.8 1645.7,1289.0 1648.7,1289.2 1651.7,1289.4 1654.6,1289.6 1657.6,1289.8 1660.6,1290.0 1663.6,1290.2 1666.5,1290.3 1669.5,1290.5 1672.5,1290.6 L1672.5,1293.5 Z"/></clipPath>
<path d="M1491.0,1293.5 L1491.0,1249.5 1494.0,1251.2 1497.0,1252.8 1499.9,1254.3 1502.9,1255.8 1505.9,1257.3 1508.9,1258.7 1511.8,1260.0 1514.8,1261.3 1517.8,1262.6 1520.8,1263.8 1523.7,1265.0 1526.7,1266.1 1529.7,1267.2 1532.7,1268.3 1535.6,1269.3 1538.6,1270.3 1541.6,1271.2 1544.6,1272.1 1547.5,1273.0 1550.5,1273.9 1553.5,1274.7 1556.5,1275.5 1559.4,1276.2 1562.4,1277.0 1565.4,1277.7 1568.4,1278.3 1571.3,1279.0 1574.3,1279.6 1577.3,1280.2 1580.3,1280.8 1583.2,1281.4 1586.2,1281.9 1589.2,1282.4 1592.2,1282.9 1595.1,1283.4 1598.1,1283.8 1601.1,1284.3 1604.1,1284.7 1607.0,1285.1 1610.0,1285.5 1613.0,1285.8 1616.0,1286.2 1618.9,1286.5 1621.9,1286.8 1624.9,1287.2 1627.9,1287.5 1630.8,1287.7 1633.8,1288.0 1636.8,1288.3 1639.8,1288.5 1642.7,1288.8 1645.7,1289.0 1648.7,1289.2 1651.7,1289.4 1654.6,1289.6 1657.6,1289.8 1660.6,1290.0 1663.6,1290.2 1666.5,1290.3 1669.5,1290.5 1672.5,1290.6 L1672.5,1293.5 Z" fill="#db3528"/>
<path d="M1491.0,1293.5 L1491.0,1249.5 1494.0,1251.2 1497.0,1252.8 1499.9,1254.3 1502.9,1255.8 1505.9,1257.3 1508.9,1258.7 1511.8,1260.0 1514.8,1261.3 1517.8,1262.6 1520.8,1263.8 1523.7,1265.0 1526.7,1266.1 1529.7,1267.2 1532.7,1268.3 1535.6,1269.3 1538.6,1270.3 1541.6,1271.2 1544.6,1272.1 1547.5,1273.0 1550.5,1273.9 1553.5,1274.7 1556.5,1275.5 1559.4,1276.2 1562.4,1277.0 1565.4,1277.7 1568.4,1278.3 1571.3,1279.0 1574.3,1279.6 1577.3,1280.2 1580.3,1280.8 1583.2,1281.4 1586.2,1281.9 1589.2,1282.4 1592.2,1282.9 1595.1,1283.4 1598.1,1283.8 1601.1,1284.3 1604.1,1284.7 1607.0,1285.1 1610.0,1285.5 1613.0,1285.8 1616.0,1286.2 1618.9,1286.5 1621.9,1286.8 1624.9,1287.2 1627.9,1287.5 1630.8,1287.7 1633.8,1288.0 1636.8,1288.3 1639.8,1288.5 1642.7,1288.8 1645.7,1289.0 1648.7,1289.2 1651.7,1289.4 1654.6,1289.6 1657.6,1289.8 1660.6,1290.0 1663.6,1290.2 1666.5,1290.3 1669.5,1290.5 1672.5,1290.6 L1672.5,1293.5 Z" fill="none" stroke="#ea5040" stroke-width="12" clip-path="url(#cb6)"/>
<line x1="446.0" y1="1293.5" x2="446.0" y2="1248.0" stroke="#111" stroke-width="5"/>
<line x1="571.0" y1="1293.5" x2="571.0" y2="1110.5" stroke="#111" stroke-width="5"/>
<line x1="635.0" y1="1293.5" x2="635.0" y2="969.9" stroke="#111" stroke-width="5"/>
<line x1="1302.0" y1="1293.5" x2="1302.0" y2="972.5" stroke="#111" stroke-width="5"/>
<line x1="1365.0" y1="1293.5" x2="1365.0" y2="1110.5" stroke="#111" stroke-width="5"/>
<line x1="1491.0" y1="1293.5" x2="1491.0" y2="1248.5" stroke="#111" stroke-width="5"/>
<polyline points="258.0,1290.9 261.0,1290.8 264.0,1290.6 267.0,1290.5 270.0,1290.3 273.0,1290.1 276.0,1289.9 279.0,1289.8 282.0,1289.6 285.0,1289.4 288.0,1289.2 291.0,1288.9 294.0,1288.7 297.0,1288.5 300.0,1288.2 303.0,1287.9 305.9,1287.7 308.9,1287.4 311.9,1287.1 314.9,1286.8 317.9,1286.4 320.9,1286.1 323.9,1285.7 326.9,1285.3 329.9,1284.9 332.9,1284.5 335.9,1284.1 338.9,1283.7 341.9,1283.2 344.9,1282.7 347.9,1282.2 350.9,1281.7 353.9,1281.1 356.9,1280.6 359.9,1280.0 362.9,1279.4 365.9,1278.7 368.9,1278.1 371.9,1277.4 374.9,1276.6 377.9,1275.9 380.9,1275.1 383.9,1274.3 386.9,1273.5 389.9,1272.6 392.9,1271.7 395.9,1270.8 398.9,1269.8 401.8,1268.8 404.8,1267.7 407.8,1266.6 410.8,1265.5 413.8,1264.4 416.8,1263.2 419.8,1261.9 422.8,1260.6 425.8,1259.3 428.8,1257.9 431.8,1256.4 434.8,1255.0 437.8,1253.4 440.8,1251.8 443.8,1250.2 446.8,1248.5 449.8,1246.8 452.8,1244.9 455.8,1243.1 458.8,1241.2 461.8,1239.2 464.8,1237.1 467.8,1235.0 470.8,1232.8 473.8,1230.6 476.8,1228.2 479.8,1225.9 482.8,1223.4 485.8,1220.9 488.8,1218.2 491.8,1215.6 494.7,1212.8 497.7,1209.9 500.7,1207.0 503.7,1204.0 506.7,1200.9 509.7,1197.7 512.7,1194.5 515.7,1191.1 518.7,1187.7 521.7,1184.1 524.7,1180.5 527.7,1176.8 530.7,1172.9 533.7,1169.0 536.7,1165.0 539.7,1160.9 542.7,1156.7 545.7,1152.3 548.7,1147.9 551.7,1143.4 554.7,1138.7 557.7,1134.0 560.7,1129.1 563.7,1124.1 566.7,1119.0 569.7,1113.8 572.7,1108.5 575.7,1103.1 578.7,1097.6 581.7,1091.9 584.7,1086.1 587.7,1080.2 590.6,1074.2 593.6,1068.1 596.6,1061.8 599.6,1055.4 602.6,1048.9 605.6,1042.3 608.6,1035.6 611.6,1028.7 614.6,1021.7 617.6,1014.6 620.6,1007.3 623.6,1000.0 626.6,992.5 629.6,984.9 632.6,977.1 635.6,969.3 638.6,961.3 641.6,953.2 644.6,945.0 647.6,936.7 650.6,928.2 653.6,919.6 656.6,910.9 659.6,902.1 662.6,893.2 665.6,884.2 668.6,875.0 671.6,865.8 674.6,856.4 677.6,846.9 680.6,837.4 683.5,827.7 686.5,817.9 689.5,808.0 692.5,798.0 695.5,788.0 698.5,777.8 701.5,767.6 704.5,757.2 707.5,746.8 710.5,736.3 713.5,725.7 716.5,715.1 719.5,704.4 722.5,693.6 725.5,682.7 728.5,671.8 731.5,660.9 734.5,649.8 737.5,638.8 740.5,627.7 743.5,616.5 746.5,605.4 749.5,594.1 752.5,582.9 755.5,571.7 758.5,560.4 761.5,549.1 764.5,537.8 767.5,526.5 770.5,515.2 773.5,503.9 776.5,492.6 779.4,481.4 782.4,470.2 785.4,458.9 788.4,447.8 791.4,436.6 794.4,425.6 797.4,414.5 800.4,403.5 803.4,392.6 806.4,381.8 809.4,371.0 812.4,360.3 815.4,349.6 818.4,339.1 821.4,328.7 824.4,318.3 827.4,308.1 830.4,298.0 833.4,288.0 836.4,278.1 839.4,268.4 842.4,258.7 845.4,249.3 848.4,239.9 851.4,230.8 854.4,221.7 857.4,212.9 860.4,204.2 863.4,195.6 866.4,187.3 869.4,179.1 872.3,171.2 875.3,163.4 878.3,155.8 881.3,148.4 884.3,141.2 887.3,134.2 890.3,127.5 893.3,120.9 896.3,114.6 899.3,108.5 902.3,102.6 905.3,97.0 908.3,91.6 911.3,86.5 914.3,81.6 917.3,76.9 920.3,72.5 923.3,68.4 926.3,64.5 929.3,60.8 932.3,57.5 935.3,54.4 938.3,51.5 941.3,48.9 944.3,46.6 947.3,44.6 950.3,42.8 953.3,41.3 956.3,40.1 959.3,39.2 962.3,38.5 965.2,38.1 968.2,38.0 971.2,38.2 974.2,38.6 977.2,39.3 980.2,40.3 983.2,41.6 986.2,43.1 989.2,44.9 992.2,47.0 995.2,49.3 998.2,52.0 1001.2,54.9 1004.2,58.0 1007.2,61.4 1010.2,65.1 1013.2,69.0 1016.2,73.2 1019.2,77.7 1022.2,82.4 1025.2,87.3 1028.2,92.5 1031.2,97.9 1034.2,103.6 1037.2,109.5 1040.2,115.6 1043.2,122.0 1046.2,128.6 1049.2,135.4 1052.2,142.4 1055.2,149.6 1058.2,157.0 1061.1,164.6 1064.1,172.5 1067.1,180.5 1070.1,188.7 1073.1,197.0 1076.1,205.6 1079.1,214.3 1082.1,223.2 1085.1,232.3 1088.1,241.5 1091.1,250.8 1094.1,260.3 1097.1,270.0 1100.1,279.7 1103.1,289.6 1106.1,299.6 1109.1,309.8 1112.1,320.0 1115.1,330.4 1118.1,340.8 1121.1,351.4 1124.1,362.0 1127.1,372.7 1130.1,383.5 1133.1,394.4 1136.1,405.3 1139.1,416.3 1142.1,427.4 1145.1,438.5 1148.1,449.6 1151.1,460.8 1154.0,472.0 1157.0,483.2 1160.0,494.5 1163.0,505.8 1166.0,517.1 1169.0,528.4 1172.0,539.7 1175.0,550.9 1178.0,562.2 1181.0,573.5 1184.0,584.8 1187.0,596.0 1190.0,607.2 1193.0,618.4 1196.0,629.5 1199.0,640.6 1202.0,651.7 1205.0,662.7 1208.0,673.6 1211.0,684.5 1214.0,695.4 1217.0,706.1 1220.0,716.8 1223.0,727.5 1226.0,738.0 1229.0,748.5 1232.0,758.9 1235.0,769.2 1238.0,779.5 1241.0,789.6 1244.0,799.7 1247.0,809.6 1249.9,819.5 1252.9,829.3 1255.9,838.9 1258.9,848.5 1261.9,858.0 1264.9,867.3 1267.9,876.5 1270.9,885.7 1273.9,894.7 1276.9,903.6 1279.9,912.4 1282.9,921.1 1285.9,929.6 1288.9,938.0 1291.9,946.4 1294.9,954.6 1297.9,962.6 1300.9,970.6 1303.9,978.4 1306.9,986.1 1309.9,993.7 1312.9,1001.2 1315.9,1008.5 1318.9,1015.8 1321.9,1022.9 1324.9,1029.8 1327.9,1036.7 1330.9,1043.4 1333.9,1050.0 1336.9,1056.5 1339.9,1062.8 1342.8,1069.1 1345.8,1075.2 1348.8,1081.2 1351.8,1087.1 1354.8,1092.8 1357.8,1098.5 1360.8,1104.0 1363.8,1109.4 1366.8,1114.7 1369.8,1119.9 1372.8,1125.0 1375.8,1129.9 1378.8,1134.8 1381.8,1139.5 1384.8,1144.1 1387.8,1148.6 1390.8,1153.1 1393.8,1157.4 1396.8,1161.6 1399.8,1165.7 1402.8,1169.7 1405.8,1173.6 1408.8,1177.4 1411.8,1181.1 1414.8,1184.7 1417.8,1188.2 1420.8,1191.7 1423.8,1195.0 1426.8,1198.3 1429.8,1201.4 1432.8,1204.5 1435.8,1207.5 1438.7,1210.4 1441.7,1213.3 1444.7,1216.0 1447.7,1218.7 1450.7,1221.3 1453.7,1223.8 1456.7,1226.2 1459.7,1228.6 1462.7,1230.9 1465.7,1233.2 1468.7,1235.3 1471.7,1237.5 1474.7,1239.5 1477.7,1241.5 1480.7,1243.4 1483.7,1245.2 1486.7,1247.0 1489.7,1248.8 1492.7,1250.5 1495.7,1252.1 1498.7,1253.7 1501.7,1255.2 1504.7,1256.7 1507.7,1258.1 1510.7,1259.5 1513.7,1260.8 1516.7,1262.1 1519.7,1263.4 1522.7,1264.6 1525.7,1265.7 1528.7,1266.8 1531.6,1267.9 1534.6,1268.9 1537.6,1270.0 1540.6,1270.9 1543.6,1271.9 1546.6,1272.8 1549.6,1273.6 1552.6,1274.4 1555.6,1275.3 1558.6,1276.0 1561.6,1276.8 1564.6,1277.5 1567.6,1278.2 1570.6,1278.8 1573.6,1279.5 1576.6,1280.1 1579.6,1280.7 1582.6,1281.2 1585.6,1281.8 1588.6,1282.3 1591.6,1282.8 1594.6,1283.3 1597.6,1283.7 1600.6,1284.2 1603.6,1284.6 1606.6,1285.0 1609.6,1285.4 1612.6,1285.8 1615.6,1286.1 1618.6,1286.5 1621.6,1286.8 1624.6,1287.1 1627.5,1287.4 1630.5,1287.7 1633.5,1288.0 1636.5,1288.2 1639.5,1288.5 1642.5,1288.7 1645.5,1289.0 1648.5,1289.2 1651.5,1289.4 1654.5,1289.6 1657.5,1289.8 1660.5,1290.0 1663.5,1290.2 1666.5,1290.3 1669.5,1290.5 1672.5,1290.6" fill="none" stroke="#111" stroke-width="4.8" stroke-linejoin="round"/>
<line x1="257.0" y1="1293.5" x2="1672.5" y2="1293.5" stroke="#111" stroke-width="6.5"/>
<line x1="968.0" y1="1293.5" x2="968.0" y2="1279.5" stroke="#222" stroke-width="4"/>
<line x1="968.0" y1="36.0" x2="968.0" y2="52.0" stroke="#222" stroke-width="4"/>
<line x1="276" y1="928.2" x2="618" y2="928.2" stroke="#111" stroke-width="6"/>
<path d="M248.5,928.2 L284.5,909.8 L288.5,913.2 L277.5,921.6 L277.5,934.6 L289.5,946.8 L285.5,950.6 Z" fill="#111"/>
<line x1="618.3" y1="903.5" x2="618.3" y2="954" stroke="#111" stroke-width="7"/>
<line x1="1317" y1="924.5" x2="1664" y2="924.5" stroke="#111" stroke-width="6"/>
<path d="M1690.8,924.4 L1655.5,905.8 L1651.8,909.3 L1663,917.6 L1663,931.2 L1651.8,939.6 L1655.5,943.2 Z" fill="#111"/>
<line x1="1317.2" y1="903.5" x2="1317.2" y2="954" stroke="#111" stroke-width="7"/>
<text class="v" x="875.2" y="947.0" font-size="38.5" textLength="201.8" lengthAdjust="spacingAndGlyphs">(Random)</text>
<text class="v" x="335.5" y="1023.0" font-size="38.5" textLength="215.4" lengthAdjust="spacingAndGlyphs">Significant</text>
<text class="v" x="1385.5" y="1023.0" font-size="38.5" textLength="213.8" lengthAdjust="spacingAndGlyphs">Significant</text>
<text class="v" x="356.2" y="1886.0" font-size="38.5" textLength="201.4" lengthAdjust="spacingAndGlyphs">Dispersed</text>
<text class="v" x="890.0" y="1886.0" font-size="38.5" textLength="165.7" lengthAdjust="spacingAndGlyphs">Random</text>
<text class="v" x="1387.2" y="1886.0" font-size="38.5" textLength="196.5" lengthAdjust="spacingAndGlyphs">Clustered</text>
<text class="v" x="1170.8" y="63.4" font-size="38.5" textLength="363.1" lengthAdjust="spacingAndGlyphs">Significance Level</text>
<text class="v" x="1350.3" y="115.1" font-size="38.5" textLength="191.5" lengthAdjust="spacingAndGlyphs">(p-value)</text>
<text class="v" x="1754.7" y="63.1" font-size="38.5" textLength="271.6" lengthAdjust="spacingAndGlyphs">Critical Value</text>
<text class="v" x="1754.0" y="120.5" font-size="38.5" textLength="186.7" lengthAdjust="spacingAndGlyphs">(z-score)</text>
<rect x="1606.8" y="157.4" width="74" height="29.8" fill="#4a7ebb" stroke="#141414" stroke-width="4.2"/>
<rect x="1611" y="161.6" width="65.6" height="21.4" fill="none" stroke="#62a2dc" stroke-width="2.4" opacity="0.8"/>
<text class="v" x="1440.3" y="180.5" font-size="38.5" textLength="95.7" lengthAdjust="spacingAndGlyphs">0.01</text>
<text class="v" x="1753.1" y="180.8" font-size="38.5" textLength="156.8" lengthAdjust="spacingAndGlyphs">&lt; -2.58</text>
<rect x="1606.8" y="209.1" width="74" height="29.8" fill="#8fa5c1" stroke="#141414" stroke-width="4.2"/>
<rect x="1611" y="213.3" width="65.6" height="21.4" fill="none" stroke="#b2c4da" stroke-width="2.4" opacity="0.8"/>
<text class="v" x="1436.7" y="237.5" font-size="38.5" textLength="96.6" lengthAdjust="spacingAndGlyphs">0.05</text>
<text class="v" x="1749.3" y="237.7" font-size="38.5" textLength="276.3" lengthAdjust="spacingAndGlyphs">-2.58 – -1.96</text>
<rect x="1606.8" y="261.2" width="74" height="29.4" fill="#c8d0c4" stroke="#141414" stroke-width="4.2"/>
<rect x="1611" y="265.4" width="65.6" height="21.0" fill="none" stroke="#dde4da" stroke-width="2.4" opacity="0.8"/>
<text class="v" x="1436.0" y="289.5" font-size="38.5" textLength="96.4" lengthAdjust="spacingAndGlyphs">0.10</text>
<text class="v" x="1744.7" y="289.8" font-size="38.5" textLength="278.1" lengthAdjust="spacingAndGlyphs">-1.96 – -1.65</text>
<rect x="1606.8" y="310.3" width="74" height="30.6" fill="#fffcc8" stroke="#141414" stroke-width="4.2"/>
<rect x="1611" y="314.5" width="65.6" height="22.2" fill="none" stroke="#fffee6" stroke-width="2.4" opacity="0.8"/>
<text class="v" x="1480.3" y="341" font-size="38.5" textLength="49" lengthAdjust="spacingAndGlyphs">---</text>
<text class="v" x="1743.8" y="341.5" font-size="38.5" textLength="263.0" lengthAdjust="spacingAndGlyphs">-1.65 – 1.65</text>
<rect x="1606.8" y="362.0" width="74" height="29.1" fill="#f8bd8e" stroke="#141414" stroke-width="4.2"/>
<rect x="1611" y="366.2" width="65.6" height="20.7" fill="none" stroke="#fcd4a8" stroke-width="2.4" opacity="0.8"/>
<text class="v" x="1436.0" y="390.5" font-size="38.5" textLength="96.4" lengthAdjust="spacingAndGlyphs">0.10</text>
<text class="v" x="1759.5" y="394.0" font-size="38.5" textLength="246.7" lengthAdjust="spacingAndGlyphs">1.65 – 1.96</text>
<rect x="1606.8" y="413.7" width="74" height="31.3" fill="#ee8460" stroke="#141414" stroke-width="4.2"/>
<rect x="1611" y="417.9" width="65.6" height="22.9" fill="none" stroke="#f7a074" stroke-width="2.4" opacity="0.8"/>
<text class="v" x="1436.7" y="447.3" font-size="38.5" textLength="96.6" lengthAdjust="spacingAndGlyphs">0.05</text>
<text class="v" x="1757.1" y="442.5" font-size="38.5" textLength="246.4" lengthAdjust="spacingAndGlyphs">1.96 – 2.58</text>
<rect x="1606.8" y="464.7" width="74" height="30.6" fill="#db3528" stroke="#141414" stroke-width="4.2"/>
<rect x="1611" y="468.9" width="65.6" height="22.2" fill="none" stroke="#ea5040" stroke-width="2.4" opacity="0.8"/>
<text class="v" x="1440.3" y="499.7" font-size="38.5" textLength="95.7" lengthAdjust="spacingAndGlyphs">0.01</text>
<text class="v" x="1757.6" y="495.0" font-size="38.5" textLength="139.4" lengthAdjust="spacingAndGlyphs">&gt; 2.58</text>
<text class="tb" x="67.4" y="88.1" font-size="57.0" textLength="336.3" lengthAdjust="spacingAndGlyphs">Moran: 0.1773</text>
<text class="tb" x="62.3" y="159.8" font-size="58.0" textLength="164.8" lengthAdjust="spacingAndGlyphs">Z: 8.15</text>
<text class="tb" x="64.1" y="243.9" font-size="57.5" textLength="161.1" lengthAdjust="spacingAndGlyphs">P: 0.00</text>
<text class="t" x="86.9" y="534.5" font-size="72.0" textLength="88.4" lengthAdjust="spacingAndGlyphs">(b)</text>
<text class="t" x="231.7" y="535.5" font-size="72.5" textLength="141.0" lengthAdjust="spacingAndGlyphs">2010</text>
<svg x="278" y="1466" width="376" height="331" viewBox="0 0 1307 1151" preserveAspectRatio="none"><rect x="0" y="0" width="1307" height="1151" fill="#d4d4d4"/><polygon points="12,20 165,20 200,55 225,85 260,140 255,190 220,197 165,200 135,190 115,150 90,115 50,110 45,85 20,65" fill="#fff"/><polygon points="400,95 470,65 530,25 545,90 520,150 470,158 410,148 395,125" fill="#fff"/><polygon points="653,20 803,20 803,130 740,130 720,80 653,75" fill="#fff"/><polygon points="1008,20 1175,20 1145,50 1125,100 1115,150 1008,150" fill="#fff"/><polygon points="1270,60 1288,60 1288,280 1272,280" fill="#fff"/><polygon points="12,295 135,295 290,300 290,340 250,360 240,420 200,440 140,435 110,400 125,335 12,330" fill="#fff"/><polygon points="450,240 530,260 560,300 545,350 490,345 450,330" fill="#fff"/><polygon points="590,390 660,395 670,450 680,490 640,470 600,440" fill="#fff"/><polygon points="888,265 1003,265 1010,310 970,345 900,350 888,300" fill="#fff"/><polygon points="1073,368 1198,365 1200,460 1078,462" fill="#fff"/><polygon points="12,470 90,470 130,530 160,580 110,590 60,610 12,612" fill="#fff"/><polygon points="370,445 450,440 460,500 440,560 380,570 370,520" fill="#fff"/><polygon points="1003,530 1203,530 1195,620 1193,700 1213,730 1263,770 1258,800 1213,820 1178,830 1150,780 1120,740 1080,705 1003,710" fill="#fff"/><polygon points="723,647 783,637 798,607 813,637 903,637 898,687 878,742 818,772 733,777 723,727" fill="#fff"/><polygon points="550,650 640,650 648,810 600,830 580,780 560,720" fill="#fff"/><polygon points="65,697 115,687 270,687 270,802 65,802 50,777 70,742" fill="#fff"/><polygon points="12,897 200,892 150,940 60,960 12,962" fill="#fff"/><polygon points="370,797 415,807 440,827 550,837 535,887 500,967 480,1012 450,992 400,1027 370,1027" fill="#fff"/><polygon points="595,827 653,800 720,790 730,830 718,902 653,927 653,1017 615,992 595,927" fill="#fff"/><polygon points="60,997 125,1002 130,1047 175,1059 255,1057 240,1132 12,1132 12,1077 35,1077 55,1077" fill="#fff"/><polygon points="903,957 1003,957 1003,1132 853,1132 853,1077 903,1092" fill="#fff"/><polygon points="1253,992 1288,992 1288,1087 1268,1077" fill="#fff"/><polygon points="1008,702 1080,705 1120,740 1150,780 1178,830 1193,887 1198,977 1203,1027 1183,1037 1153,1047 1123,1027 1088,982 1053,977 1048,887 1008,872" fill="#d4d4d4" stroke="#999" stroke-width="4"/><polyline points="653,75 653,250 1003,250 1003,20" fill="none" stroke="#a4a4a4" stroke-width="7"/><polyline points="740,20 740,250" fill="none" stroke="#a4a4a4" stroke-width="7"/><polyline points="853,130 853,250" fill="none" stroke="#a4a4a4" stroke-width="7"/><polyline points="1198,150 1198,510" fill="none" stroke="#a4a4a4" stroke-width="7"/><polyline points="375,110 390,560 400,1100" fill="none" stroke="#a4a4a4" stroke-width="7"/><polyline points="12,290 280,290" fill="none" stroke="#a4a4a4" stroke-width="7"/><polyline points="540,250 560,540" fill="none" stroke="#a4a4a4" stroke-width="7"/><polyline points="640,240 640,650" fill="none" stroke="#a4a4a4" stroke-width="7"/><polyline points="760,250 760,460" fill="none" stroke="#a4a4a4" stroke-width="7"/><polyline points="560,520 900,520 1288,515" fill="none" stroke="#a4a4a4" stroke-width="7"/><polyline points="12,450 300,440 520,520" fill="none" stroke="#a4a4a4" stroke-width="7"/><polyline points="100,470 220,600 300,700" fill="none" stroke="#a4a4a4" stroke-width="7"/><polyline points="460,540 470,820" fill="none" stroke="#a4a4a4" stroke-width="7"/><polyline points="560,650 900,650" fill="none" stroke="#a4a4a4" stroke-width="7"/><polyline points="470,620 620,820 720,790 830,760 1000,780" fill="none" stroke="#a4a4a4" stroke-width="7"/><polyline points="730,830 760,900 850,1000" fill="none" stroke="#a4a4a4" stroke-width="7"/><polyline points="350,577 350,1037" fill="none" stroke="#a4a4a4" stroke-width="7"/><polyline points="225,812 225,897" fill="none" stroke="#a4a4a4" stroke-width="7"/><polyline points="30,812 270,812" fill="none" stroke="#a4a4a4" stroke-width="7"/><polyline points="820,880 980,880" fill="none" stroke="#a4a4a4" stroke-width="7"/><polyline points="880,450 1080,370" fill="none" stroke="#a4a4a4" stroke-width="7"/><polyline points="300,20 380,110 450,170" fill="none" stroke="#a4a4a4" stroke-width="7"/><polyline points="500,20 470,60" fill="none" stroke="#a4a4a4" stroke-width="7"/><polyline points="240,1132 260,1077 480,1060" fill="none" stroke="#a4a4a4" stroke-width="7"/><polyline points="1003,20 1003,1132" fill="none" stroke="#a4a4a4" stroke-width="7"/><polyline points="560,300 700,300 900,300" fill="none" stroke="#a4a4a4" stroke-width="7"/><polyline points="700,400 900,400" fill="none" stroke="#a4a4a4" stroke-width="7"/><polyline points="100,200 260,220" fill="none" stroke="#a4a4a4" stroke-width="7"/><polyline points="240,180 290,290" fill="none" stroke="#a4a4a4" stroke-width="7"/><polyline points="115,225 145,290" fill="none" stroke="#a4a4a4" stroke-width="7"/><polyline points="270,145 320,220 325,280" fill="none" stroke="#a4a4a4" stroke-width="7"/><polyline points="235,345 653,345" fill="none" stroke="#a4a4a4" stroke-width="7"/><polyline points="360,345 360,575" fill="none" stroke="#a4a4a4" stroke-width="7"/><polyline points="450,345 455,435" fill="none" stroke="#a4a4a4" stroke-width="7"/><polyline points="545,345 550,500" fill="none" stroke="#a4a4a4" stroke-width="7"/><polyline points="230,440 653,430" fill="none" stroke="#a4a4a4" stroke-width="7"/><polyline points="100,470 250,575" fill="none" stroke="#a4a4a4" stroke-width="7"/><polyline points="265,465 235,575" fill="none" stroke="#a4a4a4" stroke-width="7"/><polyline points="653,140 1003,150" fill="none" stroke="#a4a4a4" stroke-width="7"/><polyline points="1003,330 1200,330" fill="none" stroke="#a4a4a4" stroke-width="7"/><polyline points="560,650 560,800" fill="none" stroke="#a4a4a4" stroke-width="7"/><polyline points="700,520 700,650" fill="none" stroke="#a4a4a4" stroke-width="7"/><polyline points="800,520 800,650" fill="none" stroke="#a4a4a4" stroke-width="7"/><polyline points="30,600 120,640 240,640" fill="none" stroke="#a4a4a4" stroke-width="7"/><polyline points="60,860 280,870" fill="none" stroke="#a4a4a4" stroke-width="7"/><polyline points="740,850 1000,850" fill="none" stroke="#a4a4a4" stroke-width="7"/><polyline points="850,780 850,1000" fill="none" stroke="#a4a4a4" stroke-width="7"/><polyline points="100,1010 250,1000" fill="none" stroke="#a4a4a4" stroke-width="7"/><polygon points="172,20 245,20 272,65 265,85 220,75 195,55" fill="#555" stroke="#1a1a1a" stroke-width="9" stroke-linejoin="round"/><polygon points="548,20 640,20 640,78 555,80" fill="#555" stroke="#1a1a1a" stroke-width="9" stroke-linejoin="round"/><polygon points="955,20 1003,20 1003,130 975,125 960,100" fill="#555" stroke="#1a1a1a" stroke-width="9" stroke-linejoin="round"/><polygon points="1203,20 1288,20 1288,50 1240,58 1210,45" fill="#555" stroke="#1a1a1a" stroke-width="9" stroke-linejoin="round"/><polygon points="292,235 320,230 330,260 370,260 395,280 400,300 448,300 448,343 300,343" fill="#555" stroke="#1a1a1a" stroke-width="9" stroke-linejoin="round"/><polygon points="600,255 615,255 615,320 600,320" fill="#555" stroke="#1a1a1a" stroke-width="9" stroke-linejoin="round"/><polygon points="788,260 868,260 898,300 903,340 888,370 773,360 781,310" fill="#555" stroke="#1a1a1a" stroke-width="9" stroke-linejoin="round"/><polygon points="1093,260 1193,255 1203,290 1228,280 1253,295 1288,300 1288,350 1263,370 1203,365 1153,350 1093,350" fill="#555" stroke="#1a1a1a" stroke-width="9" stroke-linejoin="round"/><polygon points="45,330 65,350 90,335 115,345 138,350 120,380 110,415 95,440 60,460 12,475 12,390 45,380" fill="#555" stroke="#1a1a1a" stroke-width="9" stroke-linejoin="round"/><polygon points="465,450 490,445 540,460 520,490 495,510 470,500" fill="#555" stroke="#1a1a1a" stroke-width="9" stroke-linejoin="round"/><polygon points="673,495 713,460 778,450 848,452 818,475 753,495 683,505" fill="#555" stroke="#1a1a1a" stroke-width="9" stroke-linejoin="round"/><polygon points="918,535 1003,530 1003,787 973,777 933,757 878,747 903,677" fill="#555" stroke="#1a1a1a" stroke-width="9" stroke-linejoin="round"/><polygon points="1208,530 1293,530 1293,822 1253,797 1208,727 1193,627" fill="#555" stroke="#1a1a1a" stroke-width="9" stroke-linejoin="round"/><polygon points="12,627 82,627 85,677 70,697 55,712 30,702 12,687" fill="#555" stroke="#1a1a1a" stroke-width="9" stroke-linejoin="round"/><polygon points="653,652 713,652 718,727 728,787 700,795 653,800" fill="#555" stroke="#1a1a1a" stroke-width="9" stroke-linejoin="round"/><polygon points="305,687 400,690 380,727 350,757 320,797 272,802 272,727 295,707" fill="#555" stroke="#1a1a1a" stroke-width="9" stroke-linejoin="round"/><polygon points="12,967 50,957 100,937 175,917 225,902 282,902 270,947 255,1057 175,1059 130,1047 125,1002 60,997 55,1077 35,1077 30,1007 12,1007" fill="#555" stroke="#1a1a1a" stroke-width="9" stroke-linejoin="round"/><polygon points="565,842 590,847 590,927 615,992 653,1017 653,927 718,902 763,937 743,977 703,1012 653,1045 600,1077 525,1082 495,1092 490,1027 510,967 540,902" fill="#555" stroke="#1a1a1a" stroke-width="9" stroke-linejoin="round"/><polygon points="893,952 948,1007 913,1052 903,1092 883,1047 838,1007" fill="#555" stroke="#1a1a1a" stroke-width="9" stroke-linejoin="round"/><polygon points="1008,872 1048,887 1053,977 1088,982 1123,1027 1153,1047 1183,1037 1203,1027 1198,977 1193,887 1223,877 1253,927 1263,992 1268,1077 1293,1092 1293,1132 1008,1132" fill="#555" stroke="#1a1a1a" stroke-width="9" stroke-linejoin="round"/></svg><rect x="281.0" y="1469.0" width="370.0" height="325.0" fill="none" stroke="#111" stroke-width="6"/>
<svg x="782" y="1467" width="375" height="330" viewBox="0 0 1307 1150" preserveAspectRatio="none"><rect x="0" y="0" width="1307" height="1150" fill="#d4d4d4"/><polygon points="1150,20 1290,20 1290,290 1200,280 1180,250 1180,200 1140,150 1120,120 1130,60" fill="#fff"/><polygon points="120,290 230,280 290,290 300,320 260,330 240,380 230,420 120,420 110,390" fill="#fff"/><polygon points="20,460 80,450 120,500 150,530 100,560 20,590" fill="#fff"/><polygon points="455,230 520,250 550,300 550,330 470,330 460,280" fill="#fff"/><polygon points="545,250 620,245 610,300 580,340 560,330" fill="#fff"/><polygon points="510,400 560,390 600,420 630,450 680,490 760,495 770,525 720,540 660,520 600,510 540,510 510,470" fill="#fff"/><polygon points="550,530 640,525 640,640 550,640" fill="#fff"/><polygon points="880,250 1000,250 1000,320 940,330 900,340 880,300" fill="#fff"/><polygon points="1075,350 1180,350 1190,420 1180,450 1080,450 1065,400" fill="#fff"/><polygon points="355,750 420,760 470,800 550,830 520,900 500,960 480,990 420,980 370,990 350,900" fill="#fff"/><polygon points="490,1090 560,1080 655,1025 755,950 845,955 935,945 1005,955 1005,1132 490,1132" fill="#fff"/><polygon points="540,20 815,20 815,62 735,65 640,62 540,62" fill="#fff"/><polygon points="12,20 30,20 30,280 12,280" fill="#fff"/><polygon points="20,880 230,870 230,900 120,930 20,950" fill="#fff"/><polygon points="180,20 260,20 300,60 260,70 210,50" fill="#fff"/><polygon points="540,20 640,20 640,60 560,70" fill="#fff"/><polygon points="20,600 80,600 90,680 20,690" fill="#fff"/><polyline points="20,260 300,270 380,330 560,330" fill="none" stroke="#a4a4a4" stroke-width="7"/><polyline points="460,200 540,250 560,520" fill="none" stroke="#a4a4a4" stroke-width="7"/><polyline points="640,120 640,520" fill="none" stroke="#a4a4a4" stroke-width="7"/><polyline points="640,230 1000,230 1000,1140" fill="none" stroke="#a4a4a4" stroke-width="7"/><polyline points="1000,500 1290,500" fill="none" stroke="#a4a4a4" stroke-width="7"/><polyline points="540,520 1000,510" fill="none" stroke="#a4a4a4" stroke-width="7"/><polyline points="460,620 620,800 740,790 820,760 1000,750" fill="none" stroke="#a4a4a4" stroke-width="7"/><polyline points="300,560 300,1100" fill="none" stroke="#a4a4a4" stroke-width="7"/><polyline points="100,450 220,570" fill="none" stroke="#a4a4a4" stroke-width="7"/><polyline points="720,640 900,560" fill="none" stroke="#a4a4a4" stroke-width="7"/><polyline points="870,380 1000,330" fill="none" stroke="#a4a4a4" stroke-width="7"/><polyline points="1000,250 1290,250" fill="none" stroke="#a4a4a4" stroke-width="7"/><polyline points="560,660 640,660" fill="none" stroke="#a4a4a4" stroke-width="7"/><polyline points="300,260 300,330 653,325" fill="none" stroke="#a4a4a4" stroke-width="7"/><polyline points="130,280 125,450" fill="none" stroke="#a4a4a4" stroke-width="7"/><polyline points="30,430 300,430" fill="none" stroke="#a4a4a4" stroke-width="7"/><polyline points="500,20 505,230" fill="none" stroke="#a4a4a4" stroke-width="7"/><polyline points="350,80 530,130" fill="none" stroke="#a4a4a4" stroke-width="7"/><polyline points="735,120 735,240" fill="none" stroke="#a4a4a4" stroke-width="7"/><polyline points="845,120 915,240" fill="none" stroke="#a4a4a4" stroke-width="7"/><polyline points="900,20 905,120" fill="none" stroke="#a4a4a4" stroke-width="7"/><polyline points="1100,250 1100,500" fill="none" stroke="#a4a4a4" stroke-width="7"/><polyline points="1200,300 1290,300" fill="none" stroke="#a4a4a4" stroke-width="7"/><polyline points="1015,600 1200,600" fill="none" stroke="#a4a4a4" stroke-width="7"/><polyline points="850,520 850,700 1000,700" fill="none" stroke="#a4a4a4" stroke-width="7"/><polyline points="560,660 560,830" fill="none" stroke="#a4a4a4" stroke-width="7"/><polyline points="380,600 460,620" fill="none" stroke="#a4a4a4" stroke-width="7"/><polyline points="120,600 300,560" fill="none" stroke="#a4a4a4" stroke-width="7"/><polyline points="100,700 300,700" fill="none" stroke="#a4a4a4" stroke-width="7"/><polyline points="1100,850 1290,880" fill="none" stroke="#a4a4a4" stroke-width="7"/><polyline points="500,900 640,900" fill="none" stroke="#a4a4a4" stroke-width="7"/><polyline points="640,800 640,1000" fill="none" stroke="#a4a4a4" stroke-width="7"/><polygon points="45,20 165,20 200,55 270,60 350,90 400,140 365,145 360,235 330,230 290,210 280,175 250,180 220,190 150,185 120,160 105,115 50,100 45,75" fill="#555" stroke="#1a1a1a" stroke-width="9" stroke-linejoin="round"/><polygon points="650,65 730,65 735,115 650,118" fill="#555" stroke="#1a1a1a" stroke-width="9" stroke-linejoin="round"/><polygon points="815,20 950,20 955,105 940,115 840,120 820,95" fill="#555" stroke="#1a1a1a" stroke-width="9" stroke-linejoin="round"/><polygon points="1020,20 1150,20 1120,60 1110,110 1130,145 1080,150 1040,140 1020,100" fill="#555" stroke="#1a1a1a" stroke-width="9" stroke-linejoin="round"/><polygon points="705,245 790,245 790,360 870,365 860,420 840,435 680,430 680,320 700,300" fill="#555" stroke="#1a1a1a" stroke-width="9" stroke-linejoin="round"/><polygon points="370,330 460,330 460,420 510,440 540,450 520,490 500,530 460,540 420,580 400,570 370,520" fill="#555" stroke="#1a1a1a" stroke-width="9" stroke-linejoin="round"/><polygon points="220,520 300,515 305,600 300,670 260,640 220,600 200,580" fill="#555" stroke="#1a1a1a" stroke-width="9" stroke-linejoin="round"/><polygon points="770,480 850,465 930,445 920,510 780,515" fill="#555" stroke="#1a1a1a" stroke-width="9" stroke-linejoin="round"/><polygon points="650,580 680,560 720,540 770,525 770,640 720,650 715,700 720,760 680,780 650,790" fill="#555" stroke="#1a1a1a" stroke-width="9" stroke-linejoin="round"/><polygon points="460,625 480,625 520,670 550,720 460,720" fill="#555" stroke="#1a1a1a" stroke-width="9" stroke-linejoin="round"/><polygon points="1200,520 1290,520 1290,820 1250,800 1230,760 1200,710 1190,600" fill="#555" stroke="#1a1a1a" stroke-width="9" stroke-linejoin="round"/><polygon points="15,665 85,660 95,700 70,740 60,790 225,795 225,880 15,880" fill="#555" stroke="#1a1a1a" stroke-width="9" stroke-linejoin="round"/><polygon points="20,960 120,930 200,900 280,890 270,1000 260,1050 200,1060 140,1040 110,1000 60,1010 30,1060 20,1060" fill="#555" stroke="#1a1a1a" stroke-width="9" stroke-linejoin="round"/><polygon points="730,780 820,770 825,880 790,910 770,940 745,900 730,850" fill="#555" stroke="#1a1a1a" stroke-width="9" stroke-linejoin="round"/><polygon points="1010,690 1090,685 1120,720 1150,760 1160,830 1180,900 1200,960 1210,1010 1170,1030 1130,1030 1100,990 1070,960 1050,930 1040,880 1010,840" fill="#555" stroke="#1a1a1a" stroke-width="9" stroke-linejoin="round"/><polygon points="240,1090 370,1085 380,1140 240,1140" fill="#555" stroke="#1a1a1a" stroke-width="9" stroke-linejoin="round"/><polygon points="420,470 445,470 445,515 420,515" fill="#fff"/></svg><rect x="785.0" y="1470.0" width="369.0" height="324.0" fill="none" stroke="#111" stroke-width="6"/>
<rect x="1290" y="1460" width="406" height="362" fill="#9a9a9a" opacity="0.45" filter="url(#sh)"/>
<rect x="1283.5" y="1451.5" width="406" height="362" fill="none" stroke="#7fb5bd" stroke-width="3"/>
<rect x="1291.85" y="1460.1" width="388.5" height="344.1" fill="none" stroke="#e2281e" stroke-width="13.6"/>
<svg x="1299" y="1467" width="375" height="331" viewBox="0 0 1307 1146" preserveAspectRatio="none"><rect x="0" y="0" width="1307" height="1146" fill="#d4d4d4"/><polygon points="640,0 1307,0 1307,520 1280,530 940,530 920,470 860,470 760,500 700,490 640,470 660,380 605,370 605,255 640,250" fill="#fff"/><polygon points="270,300 330,300 345,345 280,345" fill="#fff"/><polygon points="440,440 500,430 520,520 460,510" fill="#fff"/><polygon points="0,255 110,262 112,290 0,300" fill="#fff"/><polygon points="0,1118 1307,1118 1307,1146 0,1146" fill="#fff"/><polyline points="625,0 625,250" fill="none" stroke="#a4a4a4" stroke-width="7"/><polyline points="1003,0 1003,1146" fill="none" stroke="#a4a4a4" stroke-width="7"/><polyline points="520,530 1307,530" fill="none" stroke="#a4a4a4" stroke-width="7"/><polyline points="10,100 70,110 100,180 125,200 210,195 250,175" fill="none" stroke="#a4a4a4" stroke-width="7"/><polyline points="125,15 200,75 240,170 260,235 350,250 425,300" fill="none" stroke="#a4a4a4" stroke-width="7"/><polyline points="200,75 350,115 480,30" fill="none" stroke="#a4a4a4" stroke-width="7"/><polyline points="350,115 350,240 380,300" fill="none" stroke="#a4a4a4" stroke-width="7"/><polyline points="350,115 425,200 475,245 550,260 650,250" fill="none" stroke="#a4a4a4" stroke-width="7"/><polyline points="475,160 520,135" fill="none" stroke="#a4a4a4" stroke-width="7"/><polyline points="525,30 530,95 645,75" fill="none" stroke="#a4a4a4" stroke-width="7"/><polyline points="430,245 430,440" fill="none" stroke="#a4a4a4" stroke-width="7"/><polyline points="280,320 525,320" fill="none" stroke="#a4a4a4" stroke-width="7"/><polyline points="530,250 545,380 650,490" fill="none" stroke="#a4a4a4" stroke-width="7"/><polyline points="590,260 595,380" fill="none" stroke="#a4a4a4" stroke-width="7"/><polyline points="798,20 803,110 853,240 878,300 903,340 1003,325" fill="none" stroke="#a4a4a4" stroke-width="7"/><polyline points="943,20 953,120" fill="none" stroke="#a4a4a4" stroke-width="7"/><polyline points="718,85 728,250 728,350" fill="none" stroke="#a4a4a4" stroke-width="7"/><polyline points="658,125 1003,130" fill="none" stroke="#a4a4a4" stroke-width="7"/><polyline points="653,250 1203,250" fill="none" stroke="#a4a4a4" stroke-width="7"/><polyline points="1033,160 1153,165 1188,175 1183,250" fill="none" stroke="#a4a4a4" stroke-width="7"/><polyline points="1113,130 1173,30 1253,20" fill="none" stroke="#a4a4a4" stroke-width="7"/><polyline points="1088,250 1093,350 1073,450 1103,465 1183,460" fill="none" stroke="#a4a4a4" stroke-width="7"/><polyline points="653,355 1303,360" fill="none" stroke="#a4a4a4" stroke-width="7"/><polyline points="853,375 1013,380 933,450 828,465 703,500" fill="none" stroke="#a4a4a4" stroke-width="7"/><polyline points="1193,370 1183,530" fill="none" stroke="#a4a4a4" stroke-width="7"/><polyline points="1203,285 1303,310" fill="none" stroke="#a4a4a4" stroke-width="7"/><polyline points="763,250 768,450" fill="none" stroke="#a4a4a4" stroke-width="7"/><polyline points="653,650 768,650 773,575" fill="none" stroke="#a4a4a4" stroke-width="7"/><polyline points="803,605 808,645 903,650 883,725 818,775 978,785" fill="none" stroke="#a4a4a4" stroke-width="7"/><polyline points="818,775 818,915 768,920 653,925" fill="none" stroke="#a4a4a4" stroke-width="7"/><polyline points="703,725 718,900 768,960 693,1025 653,1050" fill="none" stroke="#a4a4a4" stroke-width="7"/><polyline points="768,960 853,1025 888,1100 933,1015 913,975 998,970" fill="none" stroke="#a4a4a4" stroke-width="7"/><polyline points="818,915 883,955 998,965" fill="none" stroke="#a4a4a4" stroke-width="7"/><polyline points="1008,705 1093,700 1153,775 1183,875 1188,965 1203,1015 1143,1055 1103,1000 1053,975 1043,900 1008,880" fill="none" stroke="#a4a4a4" stroke-width="7"/><polyline points="1203,575 1198,725 1268,775 1203,835 1183,875" fill="none" stroke="#a4a4a4" stroke-width="7"/><polyline points="1253,875 1278,1000 1268,1100" fill="none" stroke="#a4a4a4" stroke-width="7"/><polyline points="0,900 240,900" fill="none" stroke="#a4a4a4" stroke-width="7"/><polyline points="0,1000 245,1035" fill="none" stroke="#a4a4a4" stroke-width="7"/><polyline points="640,670 640,830 560,900 540,1000 520,1118" fill="none" stroke="#a4a4a4" stroke-width="7"/><polyline points="330,1040 450,1060 560,1118" fill="none" stroke="#a4a4a4" stroke-width="7"/><polyline points="100,850 200,850" fill="none" stroke="#a4a4a4" stroke-width="7"/><polygon points="0,330 15,330 110,330 110,290 260,290 260,345 340,345 340,445 435,445 435,510 500,510 525,540 525,670 625,670 625,810 530,855 470,995 430,985 390,1015 330,1040 245,1035 250,900 205,895 200,810 85,792 80,680 0,680" fill="#555" stroke="#1a1a1a" stroke-width="9" stroke-linejoin="round"/><polyline points="100,400 200,520 300,600 400,700 450,800" fill="none" stroke="#4a4a4a" stroke-width="6"/><polyline points="300,450 250,600 200,700" fill="none" stroke="#4a4a4a" stroke-width="6"/><polyline points="450,600 350,750 300,850" fill="none" stroke="#4a4a4a" stroke-width="6"/><polyline points="500,700 600,780" fill="none" stroke="#4a4a4a" stroke-width="6"/><polyline points="150,650 350,680" fill="none" stroke="#4a4a4a" stroke-width="6"/></svg><rect x="1302.0" y="1470.0" width="369.0" height="325.0" fill="none" stroke="#111" stroke-width="6"/>
<rect x="1549" y="1297.3" width="16" height="16" fill="#2a4a4e"/>
<rect x="1553" y="1301.3" width="8" height="8" fill="#f01010"/>
<rect x="1549" y="1329.8" width="16" height="16" fill="#2a4a4e"/>
<rect x="1553" y="1333.8" width="8" height="8" fill="#f01010"/>
<rect x="1549" y="1362.3" width="16" height="16" fill="#2a4a4e"/>
<rect x="1553" y="1366.3" width="8" height="8" fill="#f01010"/>
<rect x="1549" y="1394.8" width="16" height="16" fill="#2a4a4e"/>
<rect x="1553" y="1398.8" width="8" height="8" fill="#f01010"/>
<rect x="1549" y="1427.3" width="16" height="16" fill="#2a4a4e"/>
<rect x="1553" y="1431.3" width="8" height="8" fill="#f01010"/>
</g>
</svg>
</body></html>
